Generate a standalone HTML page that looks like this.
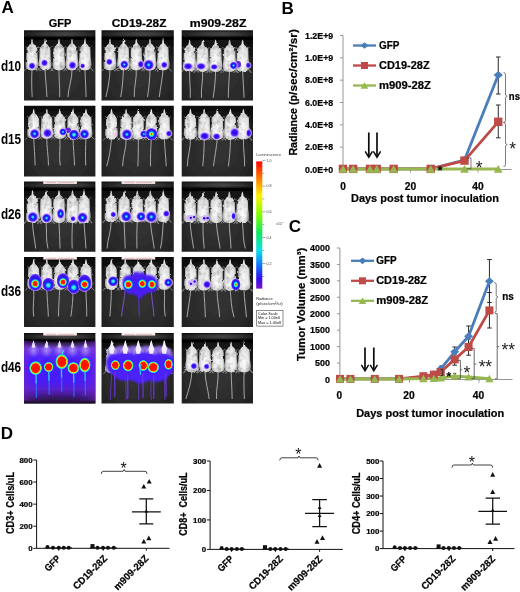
<!DOCTYPE html>
<html><head><meta charset="utf-8"><title>Figure</title>
<style>html,body{margin:0;padding:0;background:#fff;}body{width:520px;height:592px;overflow:hidden;font-family:"Liberation Sans", sans-serif;}svg{display:block;font-family:"Liberation Sans", sans-serif;}</style>
</head><body>
<svg width="520" height="592" viewBox="0 0 520 592">
<rect x="0" y="0" width="520" height="592" fill="#fff"/>
<defs><filter id="nop" x="0" y="0" width="520" height="592" filterUnits="userSpaceOnUse"><feOffset dx="0" dy="0"/></filter></defs>
<g filter="url(#nop)">
<text x="1.6" y="13.0" font-size="17.0" font-weight="bold" text-anchor="start" fill="#000">A</text>
<text x="281.5" y="13.5" font-size="17.0" font-weight="bold" text-anchor="start" fill="#000">B</text>
<text x="288.8" y="232.4" font-size="17.0" font-weight="bold" text-anchor="start" fill="#000">C</text>
<text x="0.7" y="438.6" font-size="17.0" font-weight="bold" text-anchor="start" fill="#000">D</text>
<text x="48.8" y="27.4" font-size="10.8" font-weight="bold" text-anchor="start" fill="#000" stroke="#000" stroke-width="0.22" textLength="22.6" lengthAdjust="spacingAndGlyphs">GFP</text>
<text x="111.8" y="27.4" font-size="10.8" font-weight="bold" text-anchor="start" fill="#000" stroke="#000" stroke-width="0.22" textLength="54.6" lengthAdjust="spacingAndGlyphs">CD19-28Z</text>
<text x="189.8" y="27.4" font-size="10.8" font-weight="bold" text-anchor="start" fill="#000" stroke="#000" stroke-width="0.22" textLength="56.6" lengthAdjust="spacingAndGlyphs">m909-28Z</text>
<text x="0.9" y="71.3" font-size="14.0" font-weight="bold" text-anchor="start" fill="#000" textLength="20.2" lengthAdjust="spacingAndGlyphs">d10</text>
<text x="0.9" y="144.1" font-size="14.0" font-weight="bold" text-anchor="start" fill="#000" textLength="20.2" lengthAdjust="spacingAndGlyphs">d15</text>
<text x="0.9" y="218.6" font-size="14.0" font-weight="bold" text-anchor="start" fill="#000" textLength="20.2" lengthAdjust="spacingAndGlyphs">d26</text>
<text x="0.9" y="296.1" font-size="14.0" font-weight="bold" text-anchor="start" fill="#000" textLength="20.2" lengthAdjust="spacingAndGlyphs">d36</text>
<text x="0.9" y="371.8" font-size="14.0" font-weight="bold" text-anchor="start" fill="#000" textLength="20.2" lengthAdjust="spacingAndGlyphs">d46</text>

<defs>
<filter id="soft" x="-5%" y="-5%" width="110%" height="110%"><feGaussianBlur stdDeviation="0.55"/></filter>
<filter id="fur" x="-5%" y="-5%" width="110%" height="110%">
 <feTurbulence type="fractalNoise" baseFrequency="0.2" numOctaves="2" seed="4" result="n"/>
 <feDisplacementMap in="SourceGraphic" in2="n" scale="2.4" xChannelSelector="R" yChannelSelector="G" result="d"/>
 <feColorMatrix in="n" type="matrix" values="0 0 0 0 0  0 0 0 0 0  0 0 0 0 0  0 0 1.3 0 -0.62" result="na"/>
 <feComposite in="na" in2="d" operator="in" result="shade"/>
 <feMerge><feMergeNode in="d"/><feMergeNode in="shade"/></feMerge>
</filter>
<filter id="cloudblur" x="-20%" y="-20%" width="140%" height="140%"><feGaussianBlur stdDeviation="1.1"/></filter>
<linearGradient id="fieldV" x1="0" x2="0" y1="0" y2="1">
 <stop offset="0" stop-color="#7a40d8" stop-opacity="0"/><stop offset="0.05" stop-color="#7a44dc" stop-opacity="0.35"/><stop offset="0.12" stop-color="#7c48ec" stop-opacity="0.95"/><stop offset="0.24" stop-color="#5426fa" stop-opacity="1"/><stop offset="0.38" stop-color="#451cfc" stop-opacity="1"/><stop offset="0.62" stop-color="#4a1cf4" stop-opacity="1"/><stop offset="0.73" stop-color="#5a20d0" stop-opacity="1"/><stop offset="0.81" stop-color="#4a1a9c" stop-opacity="0.95"/><stop offset="0.88" stop-color="#32145c" stop-opacity="0.92"/><stop offset="0.95" stop-color="#20102e" stop-opacity="0.9"/><stop offset="1" stop-color="#1a0e24" stop-opacity="0.9"/>
</linearGradient>
<linearGradient id="fieldH" x1="0" x2="1" y1="0" y2="0">
 <stop offset="0" stop-color="#7a22b8" stop-opacity="0.7"/><stop offset="0.1" stop-color="#7a26d0" stop-opacity="0.3"/><stop offset="0.3" stop-color="#4a20ff" stop-opacity="0"/><stop offset="0.7" stop-color="#4a20ff" stop-opacity="0"/><stop offset="0.9" stop-color="#7a26d0" stop-opacity="0.3"/><stop offset="1" stop-color="#7a22b8" stop-opacity="0.7"/>
</linearGradient>
<radialGradient id="PL"><stop offset="0" stop-color="#c0acf8" stop-opacity="0.7"/><stop offset="0.5" stop-color="#a488f4" stop-opacity="0.4"/><stop offset="1" stop-color="#8a60f0" stop-opacity="0"/></radialGradient>
<radialGradient id="GB"><stop offset="0" stop-color="#3a1cff" stop-opacity="0.95"/><stop offset="0.55" stop-color="#441eff" stop-opacity="0.7"/><stop offset="1" stop-color="#5a24f8" stop-opacity="0"/></radialGradient>
<radialGradient id="L4b"><stop offset="0" stop-color="#ff1400"/><stop offset="0.3" stop-color="#ff2000"/><stop offset="0.37" stop-color="#ffd000"/><stop offset="0.43" stop-color="#50ff60"/><stop offset="0.5" stop-color="#20d8ff"/><stop offset="0.62" stop-color="#1040ff"/><stop offset="0.8" stop-color="#3412ee"/><stop offset="1" stop-color="#4a1cf4" stop-opacity="0"/></radialGradient>
<filter id="soft2" x="-20%" y="-20%" width="140%" height="140%"><feGaussianBlur stdDeviation="0.35"/></filter>
<filter id="glowblur" x="-20%" y="-20%" width="140%" height="140%"><feGaussianBlur stdDeviation="2.2"/></filter>
<radialGradient id="bgG" cx="50%" cy="62%" r="75%">
 <stop offset="0" stop-color="#343434"/><stop offset="0.55" stop-color="#292929"/><stop offset="1" stop-color="#131313"/>
</radialGradient>
<linearGradient id="bandH" x1="0" x2="1" y1="0" y2="0">
 <stop offset="0" stop-color="#1e1e1e"/><stop offset="0.3" stop-color="#404040"/><stop offset="0.58" stop-color="#505050"/><stop offset="0.82" stop-color="#3a3a3a"/><stop offset="1" stop-color="#1c1c1c"/>
</linearGradient>
<linearGradient id="topdark" x1="0" x2="0" y1="0" y2="1">
 <stop offset="0" stop-color="#000" stop-opacity="0.5"/><stop offset="0.5" stop-color="#000" stop-opacity="0.35"/><stop offset="1" stop-color="#000" stop-opacity="0"/>
</linearGradient>
<linearGradient id="bandV" x1="0" x2="0" y1="0" y2="1">
 <stop offset="0" stop-color="#000" stop-opacity="0.8"/><stop offset="0.18" stop-color="#000" stop-opacity="0.25"/><stop offset="0.4" stop-color="#000" stop-opacity="0.12"/><stop offset="0.58" stop-color="#000" stop-opacity="0.4"/><stop offset="0.68" stop-color="#000" stop-opacity="0.96"/><stop offset="0.95" stop-color="#000" stop-opacity="0.92"/><stop offset="1" stop-color="#000" stop-opacity="0.5"/>
</linearGradient>
<linearGradient id="bodyV" x1="0" x2="0" y1="0" y2="1">
 <stop offset="0" stop-color="#dedede"/><stop offset="0.25" stop-color="#e6e6e6"/><stop offset="0.5" stop-color="#f8f8f8"/><stop offset="0.78" stop-color="#ffffff"/><stop offset="1" stop-color="#dedede"/>
</linearGradient>
<linearGradient id="bodyH" x1="0" x2="1" y1="0" y2="0">
 <stop offset="0" stop-color="#000" stop-opacity="0.34"/><stop offset="0.2" stop-color="#000" stop-opacity="0.06"/><stop offset="0.5" stop-color="#fff" stop-opacity="0.12"/><stop offset="0.8" stop-color="#000" stop-opacity="0.06"/><stop offset="1" stop-color="#000" stop-opacity="0.34"/>
</linearGradient>
<path id="mbody" d="M0,0 C0.5,0.7 0.8,2 0.95,4 C1.05,4.8 1.3,5.3 1.9,5.7 C2.8,6.2 3.2,6.8 3.4,7.5 C3.7,8.4 4.7,8.6 5.1,9.6 C5.6,11 5.4,14 5.5,18 C5.6,21 6.3,23.4 6.3,27 C6.2,30.4 4.2,32.2 1.5,32.5 L-1.5,32.5 C-4.2,32.2 -6.2,30.4 -6.3,27 C-6.3,23.4 -5.6,21 -5.5,18 C-5.4,14 -5.6,11 -5.1,9.6 C-4.7,8.6 -3.7,8.4 -3.4,7.5 C-3.2,6.8 -2.8,6.2 -1.9,5.7 C-1.3,5.3 -1.05,4.8 -0.95,4 C-0.8,2 -0.5,0.7 0,0 Z"/>
<g id="mouse">
 <path d="M-4.8,29.2 L-8.4,33.4 M4.8,29.2 L8.4,33.4" stroke="#8e8e8e" stroke-width="1" fill="none"/>
 <path d="M-4.4,9.8 L-6.6,8 M4.4,9.8 L6.6,8" stroke="#777" stroke-width="0.8" fill="none"/>
 <use href="#mbody" fill="url(#bodyV)"/>
 <use href="#mbody" fill="url(#bodyH)"/>
</g>
<radialGradient id="L1"><stop offset="0" stop-color="#2410d8"/><stop offset="0.36" stop-color="#3412f0"/><stop offset="0.54" stop-color="#6a34ff"/><stop offset="0.68" stop-color="#b494ff" stop-opacity="0.9"/><stop offset="0.84" stop-color="#dccfff" stop-opacity="0.55"/><stop offset="1" stop-color="#efe6ff" stop-opacity="0"/></radialGradient>
<radialGradient id="L2"><stop offset="0" stop-color="#86f0ff"/><stop offset="0.1" stop-color="#40d0ff"/><stop offset="0.2" stop-color="#1c8cff"/><stop offset="0.31" stop-color="#1030f8"/><stop offset="0.5" stop-color="#2a10e4"/><stop offset="0.64" stop-color="#6a34ff"/><stop offset="0.76" stop-color="#b898ff" stop-opacity="0.9"/><stop offset="0.88" stop-color="#dccfff" stop-opacity="0.5"/><stop offset="1" stop-color="#efe6ff" stop-opacity="0"/></radialGradient>
<radialGradient id="L3"><stop offset="0" stop-color="#58ff86"/><stop offset="0.16" stop-color="#30f0d0"/><stop offset="0.3" stop-color="#20a8ff"/><stop offset="0.44" stop-color="#1030f8"/><stop offset="0.62" stop-color="#2a10e4"/><stop offset="0.8" stop-color="#6a34ff"/><stop offset="0.92" stop-color="#c09cff" stop-opacity="0.8"/><stop offset="1" stop-color="#ecdcff" stop-opacity="0"/></radialGradient>
<radialGradient id="L4"><stop offset="0" stop-color="#ff1400"/><stop offset="0.34" stop-color="#ff2000"/><stop offset="0.41" stop-color="#ffd000"/><stop offset="0.47" stop-color="#50ff60"/><stop offset="0.54" stop-color="#20d8ff"/><stop offset="0.64" stop-color="#1040ff"/><stop offset="0.8" stop-color="#2c10e4"/><stop offset="0.9" stop-color="#6a34ff"/><stop offset="0.97" stop-color="#b48cff" stop-opacity="0.8"/><stop offset="1" stop-color="#e0d0ff" stop-opacity="0"/></radialGradient>
<radialGradient id="L4s"><stop offset="0" stop-color="#ff2800"/><stop offset="0.1" stop-color="#ff4000"/><stop offset="0.17" stop-color="#e8e000"/><stop offset="0.24" stop-color="#50ff70"/><stop offset="0.34" stop-color="#20d8ff"/><stop offset="0.48" stop-color="#1040ff"/><stop offset="0.68" stop-color="#2c10e4"/><stop offset="0.84" stop-color="#6a34ff"/><stop offset="0.94" stop-color="#b48cff" stop-opacity="0.8"/><stop offset="1" stop-color="#e0d0ff" stop-opacity="0"/></radialGradient>
<radialGradient id="L4i"><stop offset="0" stop-color="#ff1400"/><stop offset="0.4" stop-color="#ff2000"/><stop offset="0.5" stop-color="#ffd000"/><stop offset="0.58" stop-color="#50ff60"/><stop offset="0.68" stop-color="#20d8ff"/><stop offset="0.84" stop-color="#1040ff"/><stop offset="1" stop-color="#2c10e4" stop-opacity="0"/></radialGradient>
<radialGradient id="L3i"><stop offset="0" stop-color="#58ff86"/><stop offset="0.25" stop-color="#30f0d0"/><stop offset="0.48" stop-color="#20a8ff"/><stop offset="0.75" stop-color="#1030f8"/><stop offset="1" stop-color="#2c10e4" stop-opacity="0"/></radialGradient>
<radialGradient id="LB"><stop offset="0" stop-color="#2c10e4"/><stop offset="0.7" stop-color="#3814ec"/><stop offset="0.86" stop-color="#6a34ff"/><stop offset="0.95" stop-color="#b48cff" stop-opacity="0.8"/><stop offset="1" stop-color="#e0d0ff" stop-opacity="0"/></radialGradient>
<radialGradient id="L5"><stop offset="0" stop-color="#ff1000"/><stop offset="0.6" stop-color="#ff1400"/><stop offset="0.7" stop-color="#ffd800"/><stop offset="0.78" stop-color="#50ff70"/><stop offset="0.87" stop-color="#28d0ff"/><stop offset="1" stop-color="#2060ff" stop-opacity="0"/></radialGradient>
<radialGradient id="GV"><stop offset="0" stop-color="#3c1cff" stop-opacity="1"/><stop offset="0.45" stop-color="#4a1cff" stop-opacity="0.95"/><stop offset="0.75" stop-color="#7426e8" stop-opacity="0.7"/><stop offset="1" stop-color="#7a28c8" stop-opacity="0"/></radialGradient>
<linearGradient id="cbar" x1="0" x2="0" y1="0" y2="1">
 <stop offset="0" stop-color="#ff0000"/><stop offset="0.12" stop-color="#ff7000"/><stop offset="0.27" stop-color="#fff000"/><stop offset="0.42" stop-color="#80ff00"/><stop offset="0.56" stop-color="#10e860"/><stop offset="0.7" stop-color="#10e0e8"/><stop offset="0.82" stop-color="#1070ff"/><stop offset="0.92" stop-color="#3010f0"/><stop offset="1" stop-color="#7a10d0"/>
</linearGradient>
</defs>

<g transform="translate(24.0,30.3)">
<clipPath id="cp00"><rect x="0.0" y="0.0" width="71.4" height="70.1"/></clipPath>
<g clip-path="url(#cp00)">
<g filter="url(#soft)">
<rect x="-3" y="-3" width="77.2" height="76.8" fill="url(#bgG)"/>
<rect x="-3" y="0.0" width="77.2" height="10.2" fill="url(#bandH)"/>
<rect x="-3" y="0.0" width="77.2" height="10.2" fill="url(#bandV)"/>
<rect x="-3" y="9.5" width="77.2" height="26" fill="url(#topdark)"/>
<path d="M8,38.734 C7.55,48.734 7.62,56.734 8.18,66.73400000000001" stroke="#bdbdbd" stroke-width="0.85" fill="none"/>
<path d="M21,38.734 C21.50,48.734 22.45,56.734 22.94,66.73400000000001" stroke="#bdbdbd" stroke-width="0.85" fill="none"/>
<path d="M35,38.734 C34.75,48.734 36.07,56.734 35.68,66.73400000000001" stroke="#bdbdbd" stroke-width="0.85" fill="none"/>
<path d="M48,38.734 C48.40,48.734 44.40,56.734 43.96,66.73400000000001" stroke="#bdbdbd" stroke-width="0.85" fill="none"/>
<path d="M61,38.734 C61.25,48.734 61.88,56.734 62.06,66.73400000000001" stroke="#bdbdbd" stroke-width="0.85" fill="none"/>
<g filter="url(#fur)">
<use href="#mouse" transform="translate(8,8.5) scale(1.0,0.97)"/>
<use href="#mouse" transform="translate(21,8.5) scale(1.0,0.97)"/>
<use href="#mouse" transform="translate(35,8.5) scale(1.0,0.97)"/>
<use href="#mouse" transform="translate(48,8.5) scale(1.0,0.97)"/>
<use href="#mouse" transform="translate(61,8.5) scale(1.0,0.97)"/>
</g>
</g>
<g filter="url(#soft2)">
<ellipse cx="8" cy="35.6" rx="4.42" ry="4.42" fill="url(#L1)"/>
<ellipse cx="20.5" cy="32.6" rx="4.42" ry="4.42" fill="url(#L1)"/>
<ellipse cx="48.5" cy="35" rx="4.94" ry="4.94" fill="url(#L1)"/>
<ellipse cx="58.6" cy="35.6" rx="3.12" ry="3.12" fill="url(#L1)"/>
</g>
</g>
</g>
<g transform="translate(102.3,30.3)">
<clipPath id="cp01"><rect x="-0.8" y="0.0" width="72.3" height="70.1"/></clipPath>
<g clip-path="url(#cp01)">
<g filter="url(#soft)">
<rect x="-3" y="-3" width="77.2" height="76.8" fill="url(#bgG)"/>
<rect x="-3" y="0.0" width="77.2" height="10.2" fill="url(#bandH)"/>
<rect x="-3" y="0.0" width="77.2" height="10.2" fill="url(#bandV)"/>
<rect x="-3" y="9.5" width="77.2" height="26" fill="url(#topdark)"/>
<path d="M7.7,38.734 C7.60,48.734 5.85,56.734 3.64,66.73400000000001" stroke="#bdbdbd" stroke-width="0.85" fill="none"/>
<path d="M21.2,38.734 C20.60,48.734 20.35,56.734 18.38,66.73400000000001" stroke="#bdbdbd" stroke-width="0.85" fill="none"/>
<path d="M34,38.734 C34.60,48.734 31.50,56.734 31.96,66.73400000000001" stroke="#bdbdbd" stroke-width="0.85" fill="none"/>
<path d="M47.7,38.734 C47.60,48.734 46.65,56.734 45.26,66.73400000000001" stroke="#bdbdbd" stroke-width="0.85" fill="none"/>
<path d="M60.8,38.734 C59.95,48.734 58.22,56.734 56.98,66.73400000000001" stroke="#bdbdbd" stroke-width="0.85" fill="none"/>
<g filter="url(#fur)">
<use href="#mouse" transform="translate(7.7,8.5) scale(1.0,0.97)"/>
<use href="#mouse" transform="translate(21.2,8.5) scale(1.0,0.97)"/>
<use href="#mouse" transform="translate(34,8.5) scale(1.0,0.97)"/>
<use href="#mouse" transform="translate(47.7,8.5) scale(1.0,0.97)"/>
<use href="#mouse" transform="translate(60.8,8.5) scale(1.0,0.97)"/>
</g>
</g>
<g filter="url(#soft2)">
<ellipse cx="7" cy="31.6" rx="4.16" ry="4.16" fill="url(#L1)"/>
<ellipse cx="22" cy="34.2" rx="4.91" ry="4.91" fill="url(#L2)"/>
<ellipse cx="38.5" cy="34" rx="3.90" ry="4.68" fill="url(#L1)"/>
<ellipse cx="46.4" cy="34.6" rx="6.32" ry="6.32" fill="url(#L2)"/>
<ellipse cx="62" cy="34.6" rx="4.16" ry="4.16" fill="url(#L1)"/>
</g>
</g>
</g>
<g transform="translate(181.6,30.3)">
<clipPath id="cp02"><rect x="0.1" y="0.0" width="71.3" height="70.1"/></clipPath>
<g clip-path="url(#cp02)">
<g filter="url(#soft)">
<rect x="-3" y="-3" width="77.2" height="76.8" fill="url(#bgG)"/>
<rect x="-3" y="0.0" width="77.2" height="10.2" fill="url(#bandH)"/>
<rect x="-3" y="0.0" width="77.2" height="10.2" fill="url(#bandV)"/>
<rect x="-3" y="9.5" width="77.2" height="26" fill="url(#topdark)"/>
<path d="M8,40.239000000000004 C7.75,50.239000000000004 9.08,58.239000000000004 8.68,67.5" stroke="#bdbdbd" stroke-width="0.85" fill="none"/>
<path d="M21,40.239000000000004 C21.70,50.239000000000004 19.05,58.239000000000004 19.96,67.5" stroke="#bdbdbd" stroke-width="0.85" fill="none"/>
<path d="M34,40.239000000000004 C33.90,50.239000000000004 32.95,58.239000000000004 31.56,67.5" stroke="#bdbdbd" stroke-width="0.85" fill="none"/>
<path d="M48,40.239000000000004 C47.40,50.239000000000004 46.80,58.239000000000004 46.68,67.5" stroke="#bdbdbd" stroke-width="0.85" fill="none"/>
<path d="M61,40.239000000000004 C61.45,50.239000000000004 62.17,58.239000000000004 62.44,67.5" stroke="#bdbdbd" stroke-width="0.85" fill="none"/>
<g filter="url(#fur)">
<use href="#mouse" transform="translate(8,9.2) scale(1.06,0.995)"/>
<use href="#mouse" transform="translate(21,9.2) scale(1.06,0.995)"/>
<use href="#mouse" transform="translate(34,9.2) scale(1.06,0.995)"/>
<use href="#mouse" transform="translate(48,9.2) scale(1.06,0.995)"/>
<use href="#mouse" transform="translate(61,9.2) scale(1.06,0.995)"/>
</g>
</g>
<g filter="url(#soft2)">
<ellipse cx="6.5" cy="36" rx="5.98" ry="4.42" fill="url(#L1)"/>
<ellipse cx="19.5" cy="36" rx="5.98" ry="4.42" fill="url(#L1)"/>
<ellipse cx="32.6" cy="36.6" rx="4.68" ry="3.64" fill="url(#L1)"/>
<ellipse cx="56.6" cy="34" rx="2.8" ry="3.2" fill="#5c1ae0" opacity="0.95"/>
<ellipse cx="52" cy="35.2" rx="4.68" ry="4.68" fill="url(#L2)"/>
<ellipse cx="66.8" cy="35" rx="3.38" ry="3.90" fill="url(#L1)"/>
</g>
</g>
</g>
<g transform="translate(24.0,106.1)">
<clipPath id="cp10"><rect x="0.0" y="-0.3" width="71.4" height="70.7"/></clipPath>
<g clip-path="url(#cp10)">
<g filter="url(#soft)">
<rect x="-3" y="-3" width="77.2" height="76.8" fill="url(#bgG)"/>
<rect x="-3" y="-3" width="77.2" height="8" fill="#0d0d0d" opacity="0.5"/>
<rect x="-3" y="0" width="77.2" height="26" fill="url(#topdark)"/>
<path d="M9.7,31.385000000000005 C10.15,41.385000000000005 10.88,49.385000000000005 11.14,59.385000000000005" stroke="#bdbdbd" stroke-width="0.85" fill="none"/>
<path d="M22.8,31.385000000000005 C22.65,41.385000000000005 24.43,49.385000000000005 24.48,59.385000000000005" stroke="#bdbdbd" stroke-width="0.85" fill="none"/>
<path d="M35.8,31.385000000000005 C36.65,41.385000000000005 34.67,49.385000000000005 36.26,59.385000000000005" stroke="#bdbdbd" stroke-width="0.85" fill="none"/>
<path d="M49,31.385000000000005 C49.30,41.385000000000005 50.15,49.385000000000005 50.56,59.385000000000005" stroke="#bdbdbd" stroke-width="0.85" fill="none"/>
<path d="M62,31.385000000000005 C61.50,41.385000000000005 61.35,49.385000000000005 61.68,59.385000000000005" stroke="#bdbdbd" stroke-width="0.85" fill="none"/>
<g filter="url(#fur)">
<use href="#mouse" transform="translate(9.7,2.6) scale(1.0,0.925)"/>
<use href="#mouse" transform="translate(22.8,2.6) scale(1.0,0.925)"/>
<use href="#mouse" transform="translate(35.8,2.6) scale(1.0,0.925)"/>
<use href="#mouse" transform="translate(49,2.6) scale(1.0,0.925)"/>
<use href="#mouse" transform="translate(62,2.6) scale(1.0,0.925)"/>
</g>
</g>
<g filter="url(#soft2)">
<ellipse cx="10.6" cy="27.7" rx="5.85" ry="5.85" fill="url(#L2)"/>
<ellipse cx="23.5" cy="27" rx="5.72" ry="5.72" fill="url(#L1)"/>
<ellipse cx="44" cy="24.2" rx="3" ry="2.6" fill="#5c1ae0" opacity="0.95"/>
<ellipse cx="39" cy="25.8" rx="4.45" ry="4.45" fill="url(#L2)"/>
<ellipse cx="50" cy="28.6" rx="5.40" ry="5.40" fill="url(#L3)"/>
<ellipse cx="60.5" cy="28" rx="5.85" ry="5.85" fill="url(#L2)"/>
</g>
</g>
</g>
<g transform="translate(102.3,106.1)">
<clipPath id="cp11"><rect x="-0.8" y="-0.3" width="72.3" height="70.7"/></clipPath>
<g clip-path="url(#cp11)">
<g filter="url(#soft)">
<rect x="-3" y="-3" width="77.2" height="76.8" fill="url(#bgG)"/>
<rect x="-3" y="-3" width="77.2" height="8" fill="#0d0d0d" opacity="0.5"/>
<rect x="-3" y="0" width="77.2" height="26" fill="url(#topdark)"/>
<path d="M9.2,32.19 C8.40,42.19 7.25,50.19 4.38,60.19" stroke="#bdbdbd" stroke-width="0.85" fill="none"/>
<path d="M23.8,32.19 C24.25,42.19 20.48,50.19 20.26,60.19" stroke="#bdbdbd" stroke-width="0.85" fill="none"/>
<path d="M36,32.19 C36.10,42.19 36.05,50.19 35.56,60.19" stroke="#bdbdbd" stroke-width="0.85" fill="none"/>
<path d="M49,32.19 C48.45,42.19 48.07,50.19 48.18,60.19" stroke="#bdbdbd" stroke-width="0.85" fill="none"/>
<path d="M62,32.19 C62.50,42.19 63.45,50.19 63.94,60.19" stroke="#bdbdbd" stroke-width="0.85" fill="none"/>
<g filter="url(#fur)">
<use href="#mouse" transform="translate(9.2,2.6) scale(1.0,0.95)"/>
<use href="#mouse" transform="translate(23.8,2.6) scale(1.0,0.95)"/>
<use href="#mouse" transform="translate(36,2.6) scale(1.0,0.95)"/>
<use href="#mouse" transform="translate(49,2.6) scale(1.0,0.95)"/>
<use href="#mouse" transform="translate(62,2.6) scale(1.0,0.95)"/>
</g>
</g>
<g filter="url(#soft2)">
<ellipse cx="12.5" cy="28.5" rx="2.2" ry="2.2" fill="#f0c8e8" opacity="0.8"/>
<ellipse cx="24.6" cy="28.3" rx="6.32" ry="6.32" fill="url(#L2)"/>
<ellipse cx="41.5" cy="28" rx="4.45" ry="4.45" fill="url(#L2)"/>
<ellipse cx="49.2" cy="28" rx="6.40" ry="6.40" fill="url(#L4s)"/>
<ellipse cx="66.6" cy="27.5" rx="3.90" ry="3.90" fill="url(#L1)"/>
</g>
</g>
</g>
<g transform="translate(181.6,106.1)">
<clipPath id="cp12"><rect x="0.1" y="-0.3" width="71.3" height="70.7"/></clipPath>
<g clip-path="url(#cp12)">
<g filter="url(#soft)">
<rect x="-3" y="-3" width="77.2" height="76.8" fill="url(#bgG)"/>
<rect x="-3" y="-3" width="77.2" height="8" fill="#0d0d0d" opacity="0.5"/>
<rect x="-3" y="0" width="77.2" height="26" fill="url(#topdark)"/>
<path d="M8.8,32.19 C9.30,42.19 5.75,50.19 5.76,60.19" stroke="#bdbdbd" stroke-width="0.85" fill="none"/>
<path d="M22.6,32.19 C22.60,42.19 22.10,50.19 21.16,60.19" stroke="#bdbdbd" stroke-width="0.85" fill="none"/>
<path d="M35.7,32.19 C34.85,42.19 33.12,50.19 31.88,60.19" stroke="#bdbdbd" stroke-width="0.85" fill="none"/>
<path d="M48.8,32.19 C48.90,42.19 48.05,50.19 46.74,60.19" stroke="#bdbdbd" stroke-width="0.85" fill="none"/>
<path d="M61.8,32.19 C61.60,42.19 63.15,50.19 62.98,60.19" stroke="#bdbdbd" stroke-width="0.85" fill="none"/>
<g filter="url(#fur)">
<use href="#mouse" transform="translate(8.8,2.6) scale(1.04,0.95)"/>
<use href="#mouse" transform="translate(22.6,2.6) scale(1.04,0.95)"/>
<use href="#mouse" transform="translate(35.7,2.6) scale(1.04,0.95)"/>
<use href="#mouse" transform="translate(48.8,2.6) scale(1.04,0.95)"/>
<use href="#mouse" transform="translate(61.8,2.6) scale(1.04,0.95)"/>
</g>
</g>
<g filter="url(#soft2)">
<ellipse cx="23" cy="30" rx="6.24" ry="4.94" fill="url(#L1)"/>
<ellipse cx="35" cy="30.4" rx="4.94" ry="4.16" fill="url(#L1)"/>
<ellipse cx="53" cy="26.6" rx="5.98" ry="5.98" fill="url(#L1)"/>
<ellipse cx="67.2" cy="27" rx="3.38" ry="5.20" fill="url(#L1)"/>
</g>
</g>
</g>
<g transform="translate(24.0,181.1)">
<clipPath id="cp20"><rect x="0.0" y="0.4" width="71.4" height="70.2"/></clipPath>
<g clip-path="url(#cp20)">
<g filter="url(#soft)">
<rect x="-3" y="-3" width="77.2" height="76.8" fill="url(#bgG)"/>
<rect x="-3" y="0.4" width="77.2" height="9.799999999999999" fill="url(#bandH)"/>
<rect x="-3" y="0.4" width="77.2" height="9.799999999999999" fill="url(#bandV)"/>
<rect x="-3" y="9.5" width="77.2" height="26" fill="url(#topdark)"/>
<path d="M8.5,40.483000000000004 C8.50,50.483000000000004 10.95,58.483000000000004 11.68,67.5" stroke="#bdbdbd" stroke-width="0.85" fill="none"/>
<path d="M22,40.483000000000004 C23.00,50.483000000000004 21.70,58.483000000000004 23.96,67.5" stroke="#bdbdbd" stroke-width="0.85" fill="none"/>
<path d="M35,40.483000000000004 C35.25,50.483000000000004 35.88,58.483000000000004 36.06,67.5" stroke="#bdbdbd" stroke-width="0.85" fill="none"/>
<path d="M48.5,40.483000000000004 C48.00,50.483000000000004 47.85,58.483000000000004 48.18,67.5" stroke="#bdbdbd" stroke-width="0.85" fill="none"/>
<path d="M60,40.483000000000004 C60.50,50.483000000000004 61.45,58.483000000000004 61.94,67.5" stroke="#bdbdbd" stroke-width="0.85" fill="none"/>
<g filter="url(#fur)">
<use href="#mouse" transform="translate(8.5,8.8) scale(1.04,1.015)"/>
<use href="#mouse" transform="translate(22,8.8) scale(1.04,1.015)"/>
<use href="#mouse" transform="translate(35,8.8) scale(1.04,1.015)"/>
<use href="#mouse" transform="translate(48.5,8.8) scale(1.04,1.015)"/>
<use href="#mouse" transform="translate(60,8.8) scale(1.04,1.015)"/>
</g>
</g>
<g filter="url(#soft2)">
<ellipse cx="8.8" cy="36" rx="6.32" ry="6.32" fill="url(#L2)"/>
<ellipse cx="22.6" cy="37" rx="5.62" ry="5.62" fill="url(#L2)"/>
<ellipse cx="36.6" cy="32.6" rx="4.45" ry="6.32" fill="url(#L2)"/>
<ellipse cx="49" cy="37.6" rx="3.38" ry="3.38" fill="url(#L1)"/>
<ellipse cx="58.5" cy="36.5" rx="6.32" ry="6.32" fill="url(#L2)"/>
</g>
</g>
<rect x="19.3" y="0.20" width="33.6" height="2.6" fill="#f8efef"/>
<rect x="22" y="1.20" width="10" height="0.7" fill="#e8a0a0"/><rect x="34" y="1.20" width="16" height="0.7" fill="#e8a0a0"/>
</g>
<g transform="translate(102.3,181.1)">
<clipPath id="cp21"><rect x="-0.8" y="0.4" width="72.3" height="70.2"/></clipPath>
<g clip-path="url(#cp21)">
<g filter="url(#soft)">
<rect x="-3" y="-3" width="77.2" height="76.8" fill="url(#bgG)"/>
<rect x="-3" y="0.4" width="77.2" height="9.799999999999999" fill="url(#bandH)"/>
<rect x="-3" y="0.4" width="77.2" height="9.799999999999999" fill="url(#bandV)"/>
<rect x="-3" y="9.5" width="77.2" height="26" fill="url(#topdark)"/>
<path d="M8.8,39.734 C9.20,49.734 5.20,57.734 4.76,67.5" stroke="#bdbdbd" stroke-width="0.85" fill="none"/>
<path d="M21.8,39.734 C22.05,49.734 22.68,57.734 22.86,67.5" stroke="#bdbdbd" stroke-width="0.85" fill="none"/>
<path d="M35,39.734 C34.50,49.734 34.35,57.734 34.68,67.5" stroke="#bdbdbd" stroke-width="0.85" fill="none"/>
<path d="M48,39.734 C48.70,49.734 50.55,57.734 51.94,67.5" stroke="#bdbdbd" stroke-width="0.85" fill="none"/>
<path d="M61,39.734 C60.40,49.734 60.15,57.734 58.18,67.5" stroke="#bdbdbd" stroke-width="0.85" fill="none"/>
<g filter="url(#fur)">
<use href="#mouse" transform="translate(8.8,9.5) scale(1.02,0.97)"/>
<use href="#mouse" transform="translate(21.8,9.5) scale(1.02,0.97)"/>
<use href="#mouse" transform="translate(35,9.5) scale(1.02,0.97)"/>
<use href="#mouse" transform="translate(48,9.5) scale(1.02,0.97)"/>
<use href="#mouse" transform="translate(61,9.5) scale(1.02,0.97)"/>
</g>
</g>
<g filter="url(#soft2)">
<ellipse cx="11" cy="33.4" rx="3.64" ry="3.64" fill="url(#L1)"/>
<ellipse cx="24" cy="35.4" rx="6.32" ry="6.32" fill="url(#L2)"/>
<ellipse cx="38.8" cy="35.4" rx="5.62" ry="5.62" fill="url(#L2)"/>
<ellipse cx="49" cy="35.8" rx="6.79" ry="6.79" fill="url(#L2)"/>
<ellipse cx="64" cy="32.6" rx="4.16" ry="4.16" fill="url(#L1)"/>
</g>
</g>
<rect x="19.3" y="0.20" width="33.6" height="2.6" fill="#f8efef"/>
<rect x="22" y="1.20" width="10" height="0.7" fill="#e8a0a0"/><rect x="34" y="1.20" width="16" height="0.7" fill="#e8a0a0"/>
</g>
<g transform="translate(181.6,181.1)">
<clipPath id="cp22"><rect x="0.1" y="0.4" width="71.3" height="70.2"/></clipPath>
<g clip-path="url(#cp22)">
<g filter="url(#soft)">
<rect x="-3" y="-3" width="77.2" height="76.8" fill="url(#bgG)"/>
<rect x="-3" y="0.4" width="77.2" height="9.799999999999999" fill="url(#bandH)"/>
<rect x="-3" y="0.4" width="77.2" height="9.799999999999999" fill="url(#bandV)"/>
<rect x="-3" y="9.5" width="77.2" height="26" fill="url(#topdark)"/>
<path d="M8.5,40.534000000000006 C9.00,50.534000000000006 10.75,58.534000000000006 12.06,67.5" stroke="#bdbdbd" stroke-width="0.85" fill="none"/>
<path d="M21.5,40.534000000000006 C21.15,50.534000000000006 21.68,58.534000000000006 22.68,67.5" stroke="#bdbdbd" stroke-width="0.85" fill="none"/>
<path d="M34.6,40.534000000000006 C35.30,50.534000000000006 37.15,58.534000000000006 38.54,67.5" stroke="#bdbdbd" stroke-width="0.85" fill="none"/>
<path d="M47.7,40.534000000000006 C47.55,50.534000000000006 49.33,58.534000000000006 49.38,67.5" stroke="#bdbdbd" stroke-width="0.85" fill="none"/>
<path d="M60.8,40.534000000000006 C61.90,50.534000000000006 61.05,58.534000000000006 63.76,67.5" stroke="#bdbdbd" stroke-width="0.85" fill="none"/>
<g filter="url(#fur)">
<use href="#mouse" transform="translate(8.5,10.3) scale(1.04,0.97)"/>
<use href="#mouse" transform="translate(21.5,10.3) scale(1.04,0.97)"/>
<use href="#mouse" transform="translate(34.6,10.3) scale(1.04,0.97)"/>
<use href="#mouse" transform="translate(47.7,10.3) scale(1.04,0.97)"/>
<use href="#mouse" transform="translate(60.8,10.3) scale(1.04,0.97)"/>
</g>
</g>
<g filter="url(#soft2)">
<ellipse cx="8.5" cy="36.6" rx="4" ry="3" fill="#c8a8ff" opacity="0.75"/>
<ellipse cx="9.2" cy="36.6" rx="2.08" ry="1.82" fill="url(#L1)"/>
<ellipse cx="12.6" cy="36" rx="1.95" ry="1.95" fill="url(#L1)"/>
<ellipse cx="24" cy="37" rx="4" ry="3" fill="#c8a8ff" opacity="0.75"/>
<ellipse cx="22.6" cy="37.2" rx="2.21" ry="2.08" fill="url(#L1)"/>
<ellipse cx="26" cy="37" rx="2.08" ry="2.08" fill="url(#L1)"/>
<ellipse cx="52" cy="35" rx="2.86" ry="4.68" fill="url(#L1)"/>
</g>
</g>
</g>
<g transform="translate(24.0,256.7)">
<clipPath id="cp30"><rect x="0.0" y="0.4" width="71.4" height="69.8"/></clipPath>
<g clip-path="url(#cp30)">
<g filter="url(#soft)">
<rect x="-3" y="-3" width="77.2" height="76.8" fill="url(#bgG)"/>
<rect x="-3" y="-3" width="77.2" height="8" fill="#0d0d0d" opacity="0.5"/>
<rect x="-3" y="0" width="77.2" height="26" fill="url(#topdark)"/>
<path d="M9.7,31.729 C10.50,41.729 8.30,49.729 9.66,59.729" stroke="#bdbdbd" stroke-width="0.85" fill="none"/>
<path d="M22.8,31.729 C23.10,41.729 23.95,49.729 24.36,59.729" stroke="#bdbdbd" stroke-width="0.85" fill="none"/>
<path d="M35.8,31.729 C35.20,41.729 34.60,49.729 34.48,59.729" stroke="#bdbdbd" stroke-width="0.85" fill="none"/>
<path d="M49,31.729 C49.10,41.729 48.25,49.729 46.94,59.729" stroke="#bdbdbd" stroke-width="0.85" fill="none"/>
<path d="M62,31.729 C61.75,41.729 63.07,49.729 62.68,59.729" stroke="#bdbdbd" stroke-width="0.85" fill="none"/>
<g filter="url(#fur)">
<use href="#mouse" transform="translate(9.7,2.3) scale(1.0,0.945)"/>
<use href="#mouse" transform="translate(22.8,2.3) scale(1.0,0.945)"/>
<use href="#mouse" transform="translate(35.8,2.3) scale(1.0,0.945)"/>
<use href="#mouse" transform="translate(49,2.3) scale(1.0,0.945)"/>
<use href="#mouse" transform="translate(62,2.3) scale(1.0,0.945)"/>
</g>
</g>
<g filter="url(#soft2)">
<ellipse cx="11.2" cy="25.7" rx="7.2" ry="9.12" fill="url(#LB)"/><ellipse cx="11.2" cy="27" rx="5.328" ry="5.6160000000000005" fill="url(#L4i)"/>
<ellipse cx="24.3" cy="27.8" rx="6.2" ry="7.068" fill="url(#LB)"/><ellipse cx="24.3" cy="28.6" rx="4.0920000000000005" ry="4.0920000000000005" fill="url(#L3i)"/>
<ellipse cx="39" cy="24.099999999999998" rx="6.6" ry="8.16" fill="url(#LB)"/><ellipse cx="39" cy="25.4" rx="4.8839999999999995" ry="5.148" fill="url(#L4i)"/>
<ellipse cx="49.7" cy="30.0" rx="6.6" ry="7.523999999999999" fill="url(#LB)"/><ellipse cx="49.7" cy="30.8" rx="4.356" ry="4.356" fill="url(#L3i)"/>
<ellipse cx="60.6" cy="26.4" rx="7.2" ry="9.12" fill="url(#LB)"/><ellipse cx="60.6" cy="27.7" rx="5.328" ry="5.6160000000000005" fill="url(#L4i)"/>
</g>
</g>
<rect x="19.3" y="0.20" width="33.6" height="2.6" fill="#f8efef"/>
<rect x="22" y="1.20" width="10" height="0.7" fill="#e8a0a0"/><rect x="34" y="1.20" width="16" height="0.7" fill="#e8a0a0"/>
</g>
<g transform="translate(102.3,256.7)">
<clipPath id="cp31"><rect x="-0.8" y="0.4" width="72.3" height="69.8"/></clipPath>
<g clip-path="url(#cp31)">
<g filter="url(#soft)">
<rect x="-3" y="-3" width="77.2" height="76.8" fill="url(#bgG)"/>
<rect x="-3" y="-3" width="77.2" height="8" fill="#0d0d0d" opacity="0.5"/>
<rect x="-3" y="0" width="77.2" height="26" fill="url(#topdark)"/>
<path d="M9,31.729 C9.00,41.729 8.50,49.729 7.56,59.729" stroke="#bdbdbd" stroke-width="0.85" fill="none"/>
<path d="M23,31.729 C22.15,41.729 20.43,49.729 19.18,59.729" stroke="#8a5ce0" stroke-width="0.85" fill="none"/>
<path d="M36,31.729 C36.40,41.729 36.90,49.729 36.94,59.729" stroke="#6c34e4" stroke-width="0.85" fill="none"/>
<path d="M49,31.729 C48.95,41.729 51.17,49.729 51.68,59.729" stroke="#8a5ce0" stroke-width="0.85" fill="none"/>
<path d="M62,31.729 C62.90,41.729 61.15,49.729 62.96,59.729" stroke="#bdbdbd" stroke-width="0.85" fill="none"/>
<g filter="url(#fur)">
<use href="#mouse" transform="translate(9,2.3) scale(1.0,0.945)"/>
<use href="#mouse" transform="translate(23,2.3) scale(1.0,0.945)"/>
<use href="#mouse" transform="translate(36,2.3) scale(1.0,0.945)"/>
<use href="#mouse" transform="translate(49,2.3) scale(1.0,0.945)"/>
<use href="#mouse" transform="translate(62,2.3) scale(1.0,0.945)"/>
</g>
</g>
<g filter="url(#soft2)">
<g filter="url(#cloudblur)">
<path d="M20.5,27 C19.5,20 25,16.5 30,19 C31,15 35,13.5 37,17 C38.5,14 42,15 43,18.5 C48,17 55,20 55.5,27 C56,33.5 51,37 45.5,36 C42.5,37.5 39.5,39.5 37.6,43 C36,39.5 33.5,38 30,37.2 C24,38 21,33 20.5,27 Z" fill="#4a1cf4"/>
</g>
<ellipse cx="26" cy="27.8" rx="5.6" ry="6.0" fill="url(#L4i)"/>
<ellipse cx="40" cy="27" rx="5.0" ry="5.4" fill="url(#L4i)"/>
<ellipse cx="49.6" cy="27.7" rx="5.2" ry="5.6" fill="url(#L4i)"/>
<ellipse cx="10.8" cy="24.6" rx="5.40" ry="5.40" fill="url(#L3)"/>
<ellipse cx="66" cy="25.8" rx="5.15" ry="5.15" fill="url(#L2)"/>
</g>
</g>
<rect x="19.3" y="0.20" width="33.6" height="2.6" fill="#f8efef"/>
<rect x="22" y="1.20" width="10" height="0.7" fill="#e8a0a0"/><rect x="34" y="1.20" width="16" height="0.7" fill="#e8a0a0"/>
</g>
<g transform="translate(181.6,256.7)">
<clipPath id="cp32"><rect x="0.1" y="0.4" width="71.3" height="69.8"/></clipPath>
<g clip-path="url(#cp32)">
<g filter="url(#soft)">
<rect x="-3" y="-3" width="77.2" height="76.8" fill="url(#bgG)"/>
<rect x="-3" y="-3" width="77.2" height="8" fill="#0d0d0d" opacity="0.5"/>
<rect x="-3" y="0" width="77.2" height="26" fill="url(#topdark)"/>
<path d="M9.2,32.534 C8.35,42.534 6.62,50.534 5.38,60.534" stroke="#bdbdbd" stroke-width="0.85" fill="none"/>
<path d="M22.3,32.534 C22.75,42.534 23.47,50.534 23.74,60.534" stroke="#bdbdbd" stroke-width="0.85" fill="none"/>
<path d="M35.4,32.534 C35.35,42.534 37.57,50.534 38.08,60.534" stroke="#bdbdbd" stroke-width="0.85" fill="none"/>
<path d="M48.5,32.534 C49.70,42.534 49.30,50.534 52.46,60.534" stroke="#bdbdbd" stroke-width="0.85" fill="none"/>
<path d="M62.3,32.534 C62.70,42.534 64.00,50.534 64.86,60.534" stroke="#bdbdbd" stroke-width="0.85" fill="none"/>
<g filter="url(#fur)">
<use href="#mouse" transform="translate(9.2,2.3) scale(1.04,0.97)"/>
<use href="#mouse" transform="translate(22.3,2.3) scale(1.04,0.97)"/>
<use href="#mouse" transform="translate(35.4,2.3) scale(1.04,0.97)"/>
<use href="#mouse" transform="translate(48.5,2.3) scale(1.04,0.97)"/>
<use href="#mouse" transform="translate(62.3,2.3) scale(1.04,0.97)"/>
</g>
</g>
<g filter="url(#soft2)">
<ellipse cx="10.6" cy="26" rx="4.6" ry="3.6" fill="#c8a8ff" opacity="0.75"/>
<ellipse cx="9.2" cy="27" rx="1.95" ry="1.95" fill="url(#L1)"/>
<ellipse cx="13" cy="24.8" rx="1.95" ry="1.95" fill="url(#L1)"/>
<ellipse cx="25.4" cy="27.8" rx="4.94" ry="4.94" fill="url(#L1)"/>
<ellipse cx="54.2" cy="27.8" rx="4.90" ry="6.30" fill="url(#L4s)"/>
</g>
</g>
</g>
<g transform="translate(24.0,332.7)">
<clipPath id="cp40"><rect x="0.0" y="0.4" width="71.4" height="70.4"/></clipPath>
<g clip-path="url(#cp40)">
<g filter="url(#soft)">
<rect x="-3" y="-3" width="77.2" height="76.8" fill="url(#bgG)"/>
<rect x="-3" y="0.4" width="77.2" height="9.799999999999999" fill="url(#bandH)"/>
<rect x="-3" y="0.4" width="77.2" height="9.799999999999999" fill="url(#bandV)"/>
<rect x="-3" y="9.5" width="77.2" height="26" fill="url(#topdark)"/>
<path d="M9.5,39.2 C9.70,49.2 10.10,57.2 10.06,67.2" stroke="#6436c8" stroke-width="0.85" fill="none"/>
<path d="M22.5,39.2 C21.90,49.2 21.30,57.2 21.18,67.2" stroke="#6436c8" stroke-width="0.85" fill="none"/>
<path d="M35.5,39.2 C35.90,49.2 36.40,57.2 36.44,67.2" stroke="#6436c8" stroke-width="0.85" fill="none"/>
<path d="M48.5,39.2 C48.20,49.2 49.30,57.2 48.68,67.2" stroke="#6436c8" stroke-width="0.85" fill="none"/>
<path d="M61.5,39.2 C62.30,49.2 60.10,57.2 61.46,67.2" stroke="#6436c8" stroke-width="0.85" fill="none"/>
<g filter="url(#fur)">
<use href="#mouse" transform="translate(9.5,8.0) scale(1.0,1.0)"/>
<use href="#mouse" transform="translate(22.5,8.0) scale(1.0,1.0)"/>
<use href="#mouse" transform="translate(35.5,8.0) scale(1.0,1.0)"/>
<use href="#mouse" transform="translate(48.5,8.0) scale(1.0,1.0)"/>
<use href="#mouse" transform="translate(61.5,8.0) scale(1.0,1.0)"/>
</g>
</g>
<g filter="url(#soft2)">
<rect x="-3" y="8" width="77.2" height="66" fill="url(#fieldV)"/>
<rect x="-3" y="8" width="77.2" height="60" fill="url(#fieldH)"/>
<ellipse cx="9.5" cy="34" rx="7.5" ry="17" fill="url(#GB)"/>
<ellipse cx="22.5" cy="34" rx="7.5" ry="17" fill="url(#GB)"/>
<ellipse cx="35.5" cy="34" rx="7.5" ry="17" fill="url(#GB)"/>
<ellipse cx="48.5" cy="34" rx="7.5" ry="17" fill="url(#GB)"/>
<ellipse cx="61.5" cy="34" rx="7.5" ry="17" fill="url(#GB)"/>
<ellipse cx="9.5" cy="18" rx="6" ry="8" fill="url(#PL)"/>
<path d="M9.5,7.8 L11.4,13.8 L9.5,15.8 L7.6,13.8 Z" fill="#ebe2ff"/>
<ellipse cx="22.5" cy="18" rx="6" ry="8" fill="url(#PL)"/>
<path d="M22.5,7.8 L24.4,13.8 L22.5,15.8 L20.6,13.8 Z" fill="#ebe2ff"/>
<ellipse cx="35.5" cy="18" rx="6" ry="8" fill="url(#PL)"/>
<path d="M35.5,7.8 L37.4,13.8 L35.5,15.8 L33.6,13.8 Z" fill="#ebe2ff"/>
<ellipse cx="48.5" cy="18" rx="6" ry="8" fill="url(#PL)"/>
<path d="M48.5,7.8 L50.4,13.8 L48.5,15.8 L46.6,13.8 Z" fill="#ebe2ff"/>
<ellipse cx="61.5" cy="18" rx="6" ry="8" fill="url(#PL)"/>
<path d="M61.5,7.8 L63.4,13.8 L61.5,15.8 L59.6,13.8 Z" fill="#ebe2ff"/>
<path d="M12.0,41 L12.2,51" stroke="#30c0ff" stroke-width="1.4"/>
<path d="M12.2,51 L12.4,65" stroke="#3468ff" stroke-width="1.2" opacity="0.95"/>
<path d="M24.8,38 L25.0,48" stroke="#30c0ff" stroke-width="1.4"/>
<path d="M25.0,48 L25.2,62" stroke="#3468ff" stroke-width="1.2" opacity="0.95"/>
<path d="M37.4,35 L37.6,45" stroke="#30c0ff" stroke-width="1.4"/>
<path d="M37.6,45 L37.8,59" stroke="#3468ff" stroke-width="1.2" opacity="0.95"/>
<path d="M49.6,40 L49.800000000000004,50" stroke="#30c0ff" stroke-width="1.4"/>
<path d="M49.800000000000004,50 L50.0,64" stroke="#3468ff" stroke-width="1.2" opacity="0.95"/>
<path d="M61.0,38.5 L61.2,48.5" stroke="#30c0ff" stroke-width="1.4"/>
<path d="M61.2,48.5 L61.4,62.5" stroke="#3468ff" stroke-width="1.2" opacity="0.95"/>
<ellipse cx="11.6" cy="35.4" rx="6.8" ry="7.4" fill="url(#L5)"/>
<ellipse cx="24.6" cy="34.3" rx="5.2" ry="5.4" fill="url(#L5)"/>
<ellipse cx="37.8" cy="29" rx="6.8" ry="8" fill="url(#L5)"/>
<ellipse cx="49.4" cy="35.4" rx="6.4" ry="6.4" fill="url(#L5)"/>
<ellipse cx="60.8" cy="32.4" rx="6.2" ry="8" fill="url(#L5)"/>
<path d="M37.8,22 L39.6,17.5" stroke="#30d0ff" stroke-width="1.5"/>
</g>
</g>
<rect x="19.3" y="0.20" width="33.6" height="2.6" fill="#f8efef"/>
<rect x="22" y="1.20" width="10" height="0.7" fill="#e8a0a0"/><rect x="34" y="1.20" width="16" height="0.7" fill="#e8a0a0"/>
</g>
<g transform="translate(102.3,332.7)">
<clipPath id="cp41"><rect x="-0.8" y="0.4" width="72.3" height="70.4"/></clipPath>
<g clip-path="url(#cp41)">
<g filter="url(#soft)">
<rect x="-3" y="-3" width="77.2" height="76.8" fill="url(#bgG)"/>
<rect x="-3" y="0.4" width="77.2" height="9.799999999999999" fill="url(#bandH)"/>
<rect x="-3" y="0.4" width="77.2" height="9.799999999999999" fill="url(#bandV)"/>
<rect x="-3" y="9.5" width="77.2" height="26" fill="url(#topdark)"/>
<path d="M9.5,39.2 C8.90,49.2 8.30,57.2 8.18,67.2" stroke="#6436c8" stroke-width="0.85" fill="none"/>
<path d="M23,39.2 C23.40,49.2 23.90,57.2 23.94,67.2" stroke="#6436c8" stroke-width="0.85" fill="none"/>
<path d="M36,39.2 C35.70,49.2 36.80,57.2 36.18,67.2" stroke="#6436c8" stroke-width="0.85" fill="none"/>
<path d="M49,39.2 C49.80,49.2 47.60,57.2 48.96,67.2" stroke="#6436c8" stroke-width="0.85" fill="none"/>
<path d="M62,39.2 C62.20,49.2 62.60,57.2 62.56,67.2" stroke="#6436c8" stroke-width="0.85" fill="none"/>
<g filter="url(#fur)">
<use href="#mouse" transform="translate(9.5,8.0) scale(1.0,1.0)"/>
<use href="#mouse" transform="translate(23,8.0) scale(1.0,1.0)"/>
<use href="#mouse" transform="translate(36,8.0) scale(1.0,1.0)"/>
<use href="#mouse" transform="translate(49,8.0) scale(1.0,1.0)"/>
<use href="#mouse" transform="translate(62,8.0) scale(1.0,1.0)"/>
</g>
</g>
<g filter="url(#soft2)">
<g filter="url(#cloudblur)">
<path d="M5,24 C4,17 9,13.5 13,15 C16,12 22,12 25.5,15 C29,12 35,12 38,15 C41,12 47,12 51,15 C55,12 61,12.5 64,15.5 C68,14 71,18 71,24 L71,30 L5,30 Z" fill="#9a74f2" opacity="0.85"/>
<path d="M4,31 C3,24 8,20.5 14,21.5 C19,19 27,19 32,21.5 C37,19 47,19 52,21.5 C58,19 68,20 71,26 C73,33 72,41 66,43 C63,49 54,51 47,47.5 C41,52 33,51 29,47 C23,49.5 15,48 12,43 C6,40.5 4.5,36 4,31 Z" fill="#4c20f8"/>
</g>
<ellipse cx="13" cy="32" rx="9.5" ry="10.924999999999999" fill="url(#GB)"/>
<ellipse cx="25.8" cy="32.8" rx="10.5" ry="12.075" fill="url(#GB)"/>
<ellipse cx="41" cy="33" rx="11" ry="12.649999999999999" fill="url(#GB)"/>
<ellipse cx="51" cy="34.6" rx="11" ry="12.649999999999999" fill="url(#GB)"/>
<ellipse cx="66" cy="31.5" rx="9.5" ry="10.924999999999999" fill="url(#GB)"/>
<path d="M9.5,7.2 L12.2,16.5 L11.3,21 L7.7,21 L6.8,16.5 Z" fill="#f4f0ff"/>
<path d="M23,7.2 L25.7,16.5 L24.8,21 L21.2,21 L20.3,16.5 Z" fill="#f4f0ff"/>
<path d="M36,7.2 L38.7,16.5 L37.8,21 L34.2,21 L33.3,16.5 Z" fill="#f4f0ff"/>
<path d="M49,7.2 L51.7,16.5 L50.8,21 L47.2,21 L46.3,16.5 Z" fill="#f4f0ff"/>
<path d="M62,7.2 L64.7,16.5 L63.8,21 L60.2,21 L59.3,16.5 Z" fill="#f4f0ff"/>
<path d="M12.4,40 C12.0,48 13.0,56 12.4,64" stroke="#7034ec" stroke-width="1.2" fill="none" opacity="0.95"/>
<path d="M25.4,42 C25.0,50 26.0,58 25.4,66" stroke="#7034ec" stroke-width="1.2" fill="none" opacity="0.95"/>
<path d="M40.6,41 C40.2,49 41.2,57 40.6,65" stroke="#7034ec" stroke-width="1.2" fill="none" opacity="0.95"/>
<path d="M51.4,42 C51.0,50 52.0,58 51.4,66" stroke="#7034ec" stroke-width="1.2" fill="none" opacity="0.95"/>
<path d="M63.6,40 C63.2,48 64.2,56 63.6,64" stroke="#7034ec" stroke-width="1.2" fill="none" opacity="0.95"/>
<ellipse cx="13" cy="32.4" rx="4.8" ry="5.4" fill="url(#L5)"/>
<ellipse cx="25.8" cy="32.8" rx="5.8" ry="6.4" fill="url(#L5)"/>
<ellipse cx="41" cy="32.8" rx="5.2" ry="5.8" fill="url(#L5)"/>
<ellipse cx="51" cy="34.6" rx="6.2" ry="6.2" fill="url(#L5)"/>
<ellipse cx="66.2" cy="31.6" rx="4.6" ry="5.8" fill="url(#L5)"/>
<path d="M39,31 C37.5,34 37.6,38 38.4,42" stroke="#30c8ff" stroke-width="1.3" fill="none"/>
</g>
</g>
<rect x="19.3" y="0.20" width="33.6" height="2.6" fill="#f8efef"/>
<rect x="22" y="1.20" width="10" height="0.7" fill="#e8a0a0"/><rect x="34" y="1.20" width="16" height="0.7" fill="#e8a0a0"/>
</g>
<g transform="translate(181.6,332.7)">
<clipPath id="cp42"><rect x="0.1" y="0.4" width="71.3" height="70.4"/></clipPath>
<g clip-path="url(#cp42)">
<g filter="url(#soft)">
<rect x="-3" y="-3" width="77.2" height="76.8" fill="url(#bgG)"/>
<rect x="-3" y="0.4" width="77.2" height="9.799999999999999" fill="url(#bandH)"/>
<rect x="-3" y="0.4" width="77.2" height="9.799999999999999" fill="url(#bandV)"/>
<rect x="-3" y="9.5" width="77.2" height="26" fill="url(#topdark)"/>
<path d="M10.3,38.268 C10.00,48.268 7.35,56.268 4.24,66.268" stroke="#bdbdbd" stroke-width="0.85" fill="none"/>
<path d="M23.4,38.268 C23.50,48.268 26.40,56.268 27.58,66.268" stroke="#bdbdbd" stroke-width="0.85" fill="none"/>
<path d="M36.5,38.268 C37.15,48.268 34.27,56.268 34.96,66.268" stroke="#bdbdbd" stroke-width="0.85" fill="none"/>
<path d="M49.5,38.268 C49.75,48.268 50.38,56.268 50.56,66.268" stroke="#bdbdbd" stroke-width="0.85" fill="none"/>
<path d="M62.6,38.268 C62.15,48.268 62.23,56.268 62.78,66.268" stroke="#bdbdbd" stroke-width="0.85" fill="none"/>
<g filter="url(#fur)">
<use href="#mouse" transform="translate(10.3,9.0) scale(1.03,0.94)"/>
<use href="#mouse" transform="translate(23.4,9.0) scale(1.03,0.94)"/>
<use href="#mouse" transform="translate(36.5,9.0) scale(1.03,0.94)"/>
<use href="#mouse" transform="translate(49.5,9.0) scale(1.03,0.94)"/>
<use href="#mouse" transform="translate(62.6,9.0) scale(1.03,0.94)"/>
</g>
</g>
<g filter="url(#soft2)">
<ellipse cx="12.3" cy="33.4" rx="4.16" ry="4.16" fill="url(#L1)"/>
<ellipse cx="25" cy="33.8" rx="3.64" ry="3.64" fill="url(#L1)"/>
</g>
</g>
</g>
<g>
<rect x="256.2" y="161.4" width="6.1" height="127.2" fill="url(#cbar)"/>
<rect x="262.3" y="159.95" width="3.2" height="0.5" fill="#555"/>
<rect x="262.3" y="172.88" width="2.0" height="0.5" fill="#555"/>
<rect x="262.3" y="185.80" width="3.2" height="0.5" fill="#555"/>
<rect x="262.3" y="198.72" width="2.0" height="0.5" fill="#555"/>
<rect x="262.3" y="211.65" width="3.2" height="0.5" fill="#555"/>
<rect x="262.3" y="224.58" width="2.0" height="0.5" fill="#555"/>
<rect x="262.3" y="237.50" width="3.2" height="0.5" fill="#555"/>
<rect x="262.3" y="250.43" width="2.0" height="0.5" fill="#555"/>
<rect x="262.3" y="263.35" width="3.2" height="0.5" fill="#555"/>
<rect x="262.3" y="276.28" width="2.0" height="0.5" fill="#555"/>
<text x="266.6" y="161.6" font-size="3.6" fill="#444">1.0</text>
<text x="266.6" y="187.4" font-size="3.6" fill="#444">0.8</text>
<text x="266.6" y="213.2" font-size="3.6" fill="#444">0.6</text>
<text x="266.6" y="239.0" font-size="3.6" fill="#444">0.4</text>
<text x="266.6" y="264.8" font-size="3.6" fill="#444">0.2</text>
<text x="256.2" y="155.8" font-size="3.7" fill="#444" textLength="25" lengthAdjust="spacingAndGlyphs">Luminescence</text>
<text x="276.2" y="224.6" font-size="3.4" fill="#444">x10</text><text x="282.2" y="223.2" font-size="2.4" fill="#444">8</text>
<text x="256.2" y="300.4" font-size="3.9" fill="#222">Radiance</text>
<text x="256.2" y="305.2" font-size="3.9" fill="#222" textLength="26.5" lengthAdjust="spacingAndGlyphs">(p/sec/cm²/sr)</text>
<rect x="256.7" y="310.5" width="26.3" height="15.6" fill="#fff" stroke="#444" stroke-width="0.6"/>
<text x="258" y="314.8" font-size="3.8" fill="#111">Color Scale</text>
<text x="258" y="319.4" font-size="3.8" fill="#111">Min = 1.00e6</text>
<text x="258" y="324" font-size="3.8" fill="#111">Max = 1.00e8</text>
</g>
<path d="M343.0,35.5 L343.0,169.5 L511.5,169.5" stroke="#8a8a8a" stroke-width="0.9" fill="none"/>
<path d="M340.0,35.50 L343.0,35.50" stroke="#8a8a8a" stroke-width="0.9"/>
<text x="333.2" y="38.8" font-size="9.1" font-weight="bold" text-anchor="end" fill="#000" stroke="#000" stroke-width="0.22" textLength="28.2" lengthAdjust="spacingAndGlyphs">1.2E+9</text>
<path d="M340.0,57.83 L343.0,57.83" stroke="#8a8a8a" stroke-width="0.9"/>
<text x="333.2" y="61.13" font-size="9.1" font-weight="bold" text-anchor="end" fill="#000" stroke="#000" stroke-width="0.22" textLength="28.2" lengthAdjust="spacingAndGlyphs">1.0E+9</text>
<path d="M340.0,80.17 L343.0,80.17" stroke="#8a8a8a" stroke-width="0.9"/>
<text x="333.2" y="83.47" font-size="9.1" font-weight="bold" text-anchor="end" fill="#000" stroke="#000" stroke-width="0.22" textLength="28.2" lengthAdjust="spacingAndGlyphs">8.0E+8</text>
<path d="M340.0,102.50 L343.0,102.50" stroke="#8a8a8a" stroke-width="0.9"/>
<text x="333.2" y="105.8" font-size="9.1" font-weight="bold" text-anchor="end" fill="#000" stroke="#000" stroke-width="0.22" textLength="28.2" lengthAdjust="spacingAndGlyphs">6.0E+8</text>
<path d="M340.0,124.83 L343.0,124.83" stroke="#8a8a8a" stroke-width="0.9"/>
<text x="333.2" y="128.13" font-size="9.1" font-weight="bold" text-anchor="end" fill="#000" stroke="#000" stroke-width="0.22" textLength="28.2" lengthAdjust="spacingAndGlyphs">4.0E+8</text>
<path d="M340.0,147.17 L343.0,147.17" stroke="#8a8a8a" stroke-width="0.9"/>
<text x="333.2" y="150.47" font-size="9.1" font-weight="bold" text-anchor="end" fill="#000" stroke="#000" stroke-width="0.22" textLength="28.2" lengthAdjust="spacingAndGlyphs">2.0E+8</text>
<path d="M340.0,169.50 L343.0,169.50" stroke="#8a8a8a" stroke-width="0.9"/>
<text x="333.2" y="172.8" font-size="9.1" font-weight="bold" text-anchor="end" fill="#000" stroke="#000" stroke-width="0.22" textLength="28.2" lengthAdjust="spacingAndGlyphs">0.0E+0</text>
<path d="M343.00,169.5 L343.00,172.5" stroke="#8a8a8a" stroke-width="0.9"/>
<text x="343.0" y="190.0" font-size="10.4" font-weight="bold" text-anchor="middle" fill="#000" stroke="#000" stroke-width="0.22" textLength="5.6" lengthAdjust="spacingAndGlyphs">0</text>
<path d="M410.50,169.5 L410.50,172.5" stroke="#8a8a8a" stroke-width="0.9"/>
<text x="410.5" y="190.0" font-size="10.4" font-weight="bold" text-anchor="middle" fill="#000" stroke="#000" stroke-width="0.22" textLength="11.4" lengthAdjust="spacingAndGlyphs">20</text>
<path d="M478.00,169.5 L478.00,172.5" stroke="#8a8a8a" stroke-width="0.9"/>
<text x="478.0" y="190.0" font-size="10.4" font-weight="bold" text-anchor="middle" fill="#000" stroke="#000" stroke-width="0.22" textLength="11.4" lengthAdjust="spacingAndGlyphs">40</text>
<text x="351" y="201.6" font-size="10.8" font-weight="bold" text-anchor="start" fill="#000" stroke="#000" stroke-width="0.22" textLength="148" lengthAdjust="spacingAndGlyphs">Days post tumor inoculation</text>
<text transform="translate(297.0,155.6) rotate(-90)" stroke="#000" stroke-width="0.22" font-size="11" font-weight="bold" text-anchor="start" textLength="60.6" lengthAdjust="spacingAndGlyphs">Radiance (p</text>
<text transform="translate(297.0,94.9) rotate(-90)" stroke="#000" stroke-width="0.22" font-size="11" font-weight="bold" text-anchor="start" textLength="65.8" lengthAdjust="spacingAndGlyphs">/sec/cm²/sr)</text>
<path d="M353,45.5 L376,45.5" stroke="#4a7ebb" stroke-width="2.3"/>
<path d="M364.5,42.146 L368.4,45.5 L364.5,48.854 L360.6,45.5 Z" fill="#4a7ebb"/>
<text x="379" y="48.6" font-size="10.3" font-weight="bold" text-anchor="start" fill="#000" stroke="#000" stroke-width="0.22" textLength="20.4" lengthAdjust="spacingAndGlyphs">GFP</text>
<path d="M353,65.5 L376,65.5" stroke="#be4b48" stroke-width="2.3"/>
<rect x="361.0" y="62.0" width="7.0" height="7.0" fill="#be4b48"/>
<text x="379" y="68.6" font-size="10.3" font-weight="bold" text-anchor="start" fill="#000" stroke="#000" stroke-width="0.22" textLength="50.6" lengthAdjust="spacingAndGlyphs">CD19-28Z</text>
<path d="M353,85.5 L376,85.5" stroke="#97b850" stroke-width="2.3"/>
<path d="M364.5,82.16 L368.3,88.81 L360.7,88.81 Z" fill="#97b850"/>
<text x="379" y="88.6" font-size="10.3" font-weight="bold" text-anchor="start" fill="#000" stroke="#000" stroke-width="0.22" textLength="52.0" lengthAdjust="spacingAndGlyphs">m909-28Z</text>
<path d="M368.8,132.5 L368.8,156.0" stroke="#0a0a0a" stroke-width="1.7" fill="none"/><path d="M365.5,151.79999999999998 L368.8,157.2 L372.1,151.79999999999998" stroke="#0a0a0a" stroke-width="1.5" fill="none" stroke-linecap="round" stroke-linejoin="miter"/>
<path d="M377.0,132.5 L377.0,156.0" stroke="#0a0a0a" stroke-width="1.7" fill="none"/><path d="M373.7,151.79999999999998 L377.0,157.2 L380.3,151.79999999999998" stroke="#0a0a0a" stroke-width="1.5" fill="none" stroke-linecap="round" stroke-linejoin="miter"/>
<path d="M498.25,57 L498.25,94 M495.95,57 L500.55,57 M495.95,94 L500.55,94" stroke="#2a2a2a" stroke-width="1.0" fill="none"/>
<path d="M498.25,105 L498.25,137.8 M495.95,105 L500.55,105 M495.95,137.8 L500.55,137.8" stroke="#2a2a2a" stroke-width="1.0" fill="none"/>
<path d="M464.5,157.5 L464.5,163.5 M462.9,157.5 L466.1,157.5 M462.9,163.5 L466.1,163.5" stroke="#2a2a2a" stroke-width="1.0" fill="none"/>
<polyline points="343.00,168.90 353.12,168.90 370.00,168.90 376.75,168.90 393.62,168.90 430.75,168.90 464.50,160.00 498.25,75.00" fill="none" stroke="#4a7ebb" stroke-width="2.8" stroke-linejoin="round"/>
<polyline points="343.00,168.90 353.12,168.90 370.00,168.90 376.75,168.90 393.62,168.90 430.75,168.90 464.50,160.60 498.25,121.80" fill="none" stroke="#be4b48" stroke-width="2.8" stroke-linejoin="round"/>
<polyline points="343.00,169.00 353.12,169.00 370.00,169.00 376.75,169.00 393.62,169.00 430.75,169.00 464.50,169.00 498.25,169.00" fill="none" stroke="#97b850" stroke-width="2.8" stroke-linejoin="round"/>
<path d="M343.0,164.858 L347.7,168.9 L343.0,172.942 L338.3,168.9 Z" fill="#4a7ebb"/>
<path d="M353.125,164.858 L357.825,168.9 L353.125,172.942 L348.425,168.9 Z" fill="#4a7ebb"/>
<path d="M370.0,164.858 L374.7,168.9 L370.0,172.942 L365.3,168.9 Z" fill="#4a7ebb"/>
<path d="M376.75,164.858 L381.45,168.9 L376.75,172.942 L372.05,168.9 Z" fill="#4a7ebb"/>
<path d="M393.625,164.858 L398.325,168.9 L393.625,172.942 L388.925,168.9 Z" fill="#4a7ebb"/>
<path d="M430.75,164.858 L435.45,168.9 L430.75,172.942 L426.05,168.9 Z" fill="#4a7ebb"/>
<path d="M464.5,155.958 L469.2,160.0 L464.5,164.042 L459.8,160.0 Z" fill="#4a7ebb"/>
<path d="M498.25,70.958 L502.95,75.0 L498.25,79.042 L493.55,75.0 Z" fill="#4a7ebb"/>
<rect x="338.8" y="164.70000000000002" width="8.4" height="8.4" fill="#be4b48"/>
<rect x="348.925" y="164.70000000000002" width="8.4" height="8.4" fill="#be4b48"/>
<rect x="365.8" y="164.70000000000002" width="8.4" height="8.4" fill="#be4b48"/>
<rect x="372.55" y="164.70000000000002" width="8.4" height="8.4" fill="#be4b48"/>
<rect x="389.425" y="164.70000000000002" width="8.4" height="8.4" fill="#be4b48"/>
<rect x="426.55" y="164.70000000000002" width="8.4" height="8.4" fill="#be4b48"/>
<rect x="460.3" y="156.4" width="8.4" height="8.4" fill="#be4b48"/>
<rect x="494.05" y="117.6" width="8.4" height="8.4" fill="#be4b48"/>
<path d="M343.0,165.07999999999998 L347.4,172.78 L338.6,172.78 Z" fill="#97b850"/>
<path d="M353.125,165.07999999999998 L357.525,172.78 L348.725,172.78 Z" fill="#97b850"/>
<path d="M370.0,165.07999999999998 L374.4,172.78 L365.6,172.78 Z" fill="#97b850"/>
<path d="M376.75,165.07999999999998 L381.15,172.78 L372.35,172.78 Z" fill="#97b850"/>
<path d="M393.625,165.07999999999998 L398.025,172.78 L389.225,172.78 Z" fill="#97b850"/>
<path d="M430.75,165.07999999999998 L435.15,172.78 L426.35,172.78 Z" fill="#97b850"/>
<path d="M464.5,165.07999999999998 L468.9,172.78 L460.1,172.78 Z" fill="#97b850"/>
<path d="M498.25,165.07999999999998 L502.65,172.78 L493.85,172.78 Z" fill="#97b850"/>
<path d="M503.5,72.5 Q505.5,72.5 505.5,74.5 L505.5,95.0 L507.3,96.2 L505.5,97.4 L505.5,120.5 Q505.5,122.5 503.5,122.5" stroke="#444" stroke-width="0.7" fill="none"/>
<text x="508.8" y="99.8" font-size="10.6" font-weight="bold" text-anchor="start" fill="#000" stroke="#000" stroke-width="0.22" textLength="11.2" lengthAdjust="spacingAndGlyphs">ns</text>
<path d="M503.5,122.5 Q505.5,122.5 505.5,124.5 L505.5,143.4 L507.3,144.6 L505.5,145.79999999999998 L505.5,164.5 Q505.5,166.5 503.5,166.5" stroke="#444" stroke-width="0.7" fill="none"/>
<text x="512.70" y="154.70" font-size="17.5" font-weight="normal" text-anchor="middle" fill="#222">*</text>
<path d="M466.6,158 L471,158 L471,168.8 L466.6,168.8" stroke="#444" stroke-width="0.7" fill="none"/>
<text x="479.10" y="173.90" font-size="17.5" font-weight="normal" text-anchor="middle" fill="#222">*</text>
<text x="440.10" y="175.40" font-size="13" font-weight="bold" text-anchor="middle" fill="#000">*</text>
<path d="M339.9,248.0 L339.9,379.5 L512.5,379.5" stroke="#8a8a8a" stroke-width="0.9" fill="none"/>
<path d="M336.9,248.00 L339.9,248.00" stroke="#8a8a8a" stroke-width="0.9"/>
<text x="329.9" y="251.3" font-size="9.1" font-weight="bold" text-anchor="end" fill="#000" stroke="#000" stroke-width="0.22" textLength="19.8" lengthAdjust="spacingAndGlyphs">4000</text>
<path d="M336.9,264.44 L339.9,264.44" stroke="#8a8a8a" stroke-width="0.9"/>
<text x="329.9" y="267.74" font-size="9.1" font-weight="bold" text-anchor="end" fill="#000" stroke="#000" stroke-width="0.22" textLength="19.8" lengthAdjust="spacingAndGlyphs">3500</text>
<path d="M336.9,280.88 L339.9,280.88" stroke="#8a8a8a" stroke-width="0.9"/>
<text x="329.9" y="284.18" font-size="9.1" font-weight="bold" text-anchor="end" fill="#000" stroke="#000" stroke-width="0.22" textLength="19.8" lengthAdjust="spacingAndGlyphs">3000</text>
<path d="M336.9,297.31 L339.9,297.31" stroke="#8a8a8a" stroke-width="0.9"/>
<text x="329.9" y="300.61" font-size="9.1" font-weight="bold" text-anchor="end" fill="#000" stroke="#000" stroke-width="0.22" textLength="19.8" lengthAdjust="spacingAndGlyphs">2500</text>
<path d="M336.9,313.75 L339.9,313.75" stroke="#8a8a8a" stroke-width="0.9"/>
<text x="329.9" y="317.05" font-size="9.1" font-weight="bold" text-anchor="end" fill="#000" stroke="#000" stroke-width="0.22" textLength="19.8" lengthAdjust="spacingAndGlyphs">2000</text>
<path d="M336.9,330.19 L339.9,330.19" stroke="#8a8a8a" stroke-width="0.9"/>
<text x="329.9" y="333.49" font-size="9.1" font-weight="bold" text-anchor="end" fill="#000" stroke="#000" stroke-width="0.22" textLength="19.8" lengthAdjust="spacingAndGlyphs">1500</text>
<path d="M336.9,346.62 L339.9,346.62" stroke="#8a8a8a" stroke-width="0.9"/>
<text x="329.9" y="349.93" font-size="9.1" font-weight="bold" text-anchor="end" fill="#000" stroke="#000" stroke-width="0.22" textLength="19.8" lengthAdjust="spacingAndGlyphs">1000</text>
<path d="M336.9,363.06 L339.9,363.06" stroke="#8a8a8a" stroke-width="0.9"/>
<text x="329.9" y="366.36" font-size="9.1" font-weight="bold" text-anchor="end" fill="#000" stroke="#000" stroke-width="0.22" textLength="14.9" lengthAdjust="spacingAndGlyphs">500</text>
<path d="M336.9,379.50 L339.9,379.50" stroke="#8a8a8a" stroke-width="0.9"/>
<text x="329.9" y="382.8" font-size="9.1" font-weight="bold" text-anchor="end" fill="#000" stroke="#000" stroke-width="0.22" textLength="5.0" lengthAdjust="spacingAndGlyphs">0</text>
<path d="M340.00,379.5 L340.00,382.5" stroke="#8a8a8a" stroke-width="0.9"/>
<text x="339.4" y="399.4" font-size="10.4" font-weight="bold" text-anchor="middle" fill="#000" stroke="#000" stroke-width="0.22" textLength="5.6" lengthAdjust="spacingAndGlyphs">0</text>
<path d="M409.50,379.5 L409.50,382.5" stroke="#8a8a8a" stroke-width="0.9"/>
<text x="408.9" y="399.4" font-size="10.4" font-weight="bold" text-anchor="middle" fill="#000" stroke="#000" stroke-width="0.22" textLength="11.4" lengthAdjust="spacingAndGlyphs">20</text>
<path d="M479.00,379.5 L479.00,382.5" stroke="#8a8a8a" stroke-width="0.9"/>
<text x="478.4" y="399.4" font-size="10.4" font-weight="bold" text-anchor="middle" fill="#000" stroke="#000" stroke-width="0.22" textLength="11.4" lengthAdjust="spacingAndGlyphs">40</text>
<text x="356.2" y="416.6" font-size="10.8" font-weight="bold" text-anchor="start" fill="#000" stroke="#000" stroke-width="0.22" textLength="148" lengthAdjust="spacingAndGlyphs">Days post tumor inoculation</text>
<text transform="translate(304.7,304.4) rotate(-90)" stroke="#000" stroke-width="0.22" font-size="11.5" font-weight="bold" text-anchor="middle" textLength="113.4" lengthAdjust="spacingAndGlyphs">Tumor Volume (mm³)</text>
<path d="M351,260.8 L374,260.8" stroke="#4a7ebb" stroke-width="2.3"/>
<path d="M362.5,257.446 L366.4,260.8 L362.5,264.154 L358.6,260.8 Z" fill="#4a7ebb"/>
<text x="376.2" y="264.40000000000003" font-size="10.3" font-weight="bold" text-anchor="start" fill="#000" stroke="#000" stroke-width="0.22" textLength="20.4" lengthAdjust="spacingAndGlyphs">GFP</text>
<path d="M351,280.8 L374,280.8" stroke="#be4b48" stroke-width="2.3"/>
<rect x="359.0" y="277.3" width="7.0" height="7.0" fill="#be4b48"/>
<text x="376.2" y="284.40000000000003" font-size="10.3" font-weight="bold" text-anchor="start" fill="#000" stroke="#000" stroke-width="0.22" textLength="50.6" lengthAdjust="spacingAndGlyphs">CD19-28Z</text>
<path d="M351,300.8 L374,300.8" stroke="#97b850" stroke-width="2.3"/>
<path d="M362.5,297.46 L366.3,304.11 L358.7,304.11 Z" fill="#97b850"/>
<text x="376.2" y="304.40000000000003" font-size="10.3" font-weight="bold" text-anchor="start" fill="#000" stroke="#000" stroke-width="0.22" textLength="52.0" lengthAdjust="spacingAndGlyphs">m909-28Z</text>
<path d="M365.0,347.5 L365.0,369.6" stroke="#0a0a0a" stroke-width="1.7" fill="none"/><path d="M361.7,365.40000000000003 L365.0,370.8 L368.3,365.40000000000003" stroke="#0a0a0a" stroke-width="1.5" fill="none" stroke-linecap="round" stroke-linejoin="miter"/>
<path d="M373.8,347.5 L373.8,369.6" stroke="#0a0a0a" stroke-width="1.7" fill="none"/><path d="M370.5,365.40000000000003 L373.8,370.8 L377.1,365.40000000000003" stroke="#0a0a0a" stroke-width="1.5" fill="none" stroke-linecap="round" stroke-linejoin="miter"/>
<path d="M489.425,259.5 L489.425,302.5 M487.125,259.5 L491.725,259.5 M487.125,302.5 L491.725,302.5" stroke="#2a2a2a" stroke-width="1.0" fill="none"/>
<path d="M489.425,292.5 L489.425,328.0 M487.125,292.5 L491.725,292.5 M487.125,328.0 L491.725,328.0" stroke="#2a2a2a" stroke-width="1.0" fill="none"/>
<path d="M468.57500000000005,326.0 L468.57500000000005,346.4 M466.27500000000003,326.0 L470.87500000000006,326.0 M466.27500000000003,346.4 L470.87500000000006,346.4" stroke="#2a2a2a" stroke-width="1.0" fill="none"/>
<path d="M468.57500000000005,339.0 L468.57500000000005,355.2 M466.27500000000003,339.0 L470.87500000000006,339.0 M466.27500000000003,355.2 L470.87500000000006,355.2" stroke="#2a2a2a" stroke-width="1.0" fill="none"/>
<path d="M454.675,347.0 L454.675,357.0 M452.375,347.0 L456.975,347.0 M452.375,357.0 L456.975,357.0" stroke="#2a2a2a" stroke-width="1.0" fill="none"/>
<path d="M454.675,354.0 L454.675,365.2 M452.375,354.0 L456.975,354.0 M452.375,365.2 L456.975,365.2" stroke="#2a2a2a" stroke-width="1.0" fill="none"/>
<path d="M440.775,366.0 L440.775,372.0 M439.275,366.0 L442.275,366.0 M439.275,372.0 L442.275,372.0" stroke="#2a2a2a" stroke-width="1.0" fill="none"/>
<path d="M454.675,373.4 L454.675,379.0 M453.175,373.4 L456.175,373.4 M453.175,379.0 L456.175,379.0" stroke="#2a2a2a" stroke-width="1.0" fill="none"/>
<polyline points="340.00,378.90 350.43,378.90 374.75,378.90 399.07,378.90 423.40,377.40 433.82,374.40 440.77,368.80 454.68,351.80 468.58,336.20 489.43,281.20" fill="none" stroke="#4a7ebb" stroke-width="2.8" stroke-linejoin="round"/>
<polyline points="340.00,378.90 350.43,378.90 374.75,378.90 399.07,378.90 423.40,376.20 433.82,374.60 440.77,372.00 454.68,359.40 468.58,347.00 489.43,310.40" fill="none" stroke="#be4b48" stroke-width="2.8" stroke-linejoin="round"/>
<polyline points="340.00,379.00 350.43,379.00 374.75,379.00 399.07,379.00 423.40,378.60 433.82,378.40 440.77,378.00 454.68,376.20 468.58,377.00 489.43,378.60" fill="none" stroke="#97b850" stroke-width="2.8" stroke-linejoin="round"/>
<path d="M340.0,375.03 L344.5,378.9 L340.0,382.77 L335.5,378.9 Z" fill="#4a7ebb"/>
<path d="M350.425,375.03 L354.925,378.9 L350.425,382.77 L345.925,378.9 Z" fill="#4a7ebb"/>
<path d="M374.75,375.03 L379.25,378.9 L374.75,382.77 L370.25,378.9 Z" fill="#4a7ebb"/>
<path d="M399.075,375.03 L403.575,378.9 L399.075,382.77 L394.575,378.9 Z" fill="#4a7ebb"/>
<path d="M423.4,373.53 L427.9,377.4 L423.4,381.27 L418.9,377.4 Z" fill="#4a7ebb"/>
<path d="M433.825,370.53 L438.325,374.4 L433.825,378.27 L429.325,374.4 Z" fill="#4a7ebb"/>
<path d="M440.775,364.93 L445.275,368.8 L440.775,372.67 L436.275,368.8 Z" fill="#4a7ebb"/>
<path d="M454.675,347.93 L459.175,351.8 L454.675,355.67 L450.175,351.8 Z" fill="#4a7ebb"/>
<path d="M468.57500000000005,332.33 L473.07500000000005,336.2 L468.57500000000005,340.07 L464.07500000000005,336.2 Z" fill="#4a7ebb"/>
<path d="M489.425,277.33 L493.925,281.2 L489.425,285.07 L484.925,281.2 Z" fill="#4a7ebb"/>
<rect x="336.0" y="374.9" width="8.0" height="8.0" fill="#be4b48"/>
<rect x="346.425" y="374.9" width="8.0" height="8.0" fill="#be4b48"/>
<rect x="370.75" y="374.9" width="8.0" height="8.0" fill="#be4b48"/>
<rect x="395.075" y="374.9" width="8.0" height="8.0" fill="#be4b48"/>
<rect x="419.4" y="372.2" width="8.0" height="8.0" fill="#be4b48"/>
<rect x="429.825" y="370.6" width="8.0" height="8.0" fill="#be4b48"/>
<rect x="436.775" y="368.0" width="8.0" height="8.0" fill="#be4b48"/>
<rect x="450.675" y="355.4" width="8.0" height="8.0" fill="#be4b48"/>
<rect x="464.57500000000005" y="343.0" width="8.0" height="8.0" fill="#be4b48"/>
<rect x="485.425" y="306.4" width="8.0" height="8.0" fill="#be4b48"/>
<path d="M340.0,375.24 L344.2,382.59000000000003 L335.8,382.59000000000003 Z" fill="#97b850"/>
<path d="M350.425,375.24 L354.625,382.59000000000003 L346.225,382.59000000000003 Z" fill="#97b850"/>
<path d="M374.75,375.24 L378.95,382.59000000000003 L370.55,382.59000000000003 Z" fill="#97b850"/>
<path d="M399.075,375.24 L403.275,382.59000000000003 L394.875,382.59000000000003 Z" fill="#97b850"/>
<path d="M423.4,374.84000000000003 L427.59999999999997,382.19000000000005 L419.2,382.19000000000005 Z" fill="#97b850"/>
<path d="M433.825,374.64 L438.025,381.99 L429.625,381.99 Z" fill="#97b850"/>
<path d="M440.775,374.24 L444.97499999999997,381.59000000000003 L436.575,381.59000000000003 Z" fill="#97b850"/>
<path d="M454.675,372.44 L458.875,379.79 L450.475,379.79 Z" fill="#97b850"/>
<path d="M468.57500000000005,373.24 L472.77500000000003,380.59000000000003 L464.37500000000006,380.59000000000003 Z" fill="#97b850"/>
<path d="M489.425,374.84000000000003 L493.625,382.19000000000005 L485.225,382.19000000000005 Z" fill="#97b850"/>
<path d="M494.2,282.5 Q496.2,282.5 496.2,284.5 L496.2,295.8 L498.0,297 L496.2,298.2 L496.2,310.5 Q496.2,312.5 494.2,312.5" stroke="#444" stroke-width="0.7" fill="none"/>
<text x="502.2" y="300.4" font-size="10.6" font-weight="bold" text-anchor="start" fill="#000" stroke="#000" stroke-width="0.22" textLength="11.6" lengthAdjust="spacingAndGlyphs">ns</text>
<path d="M495,313.6 L497.2,313.6 L497.2,378.8 L495,378.8 M497.2,346.6 L499.2,346.6" stroke="#444" stroke-width="0.8" fill="none"/>
<text x="504.80" y="355.90" font-size="17.5" font-weight="normal" text-anchor="middle" fill="#222">*</text>
<text x="511.70" y="355.90" font-size="17.5" font-weight="normal" text-anchor="middle" fill="#222">*</text>
<path d="M471.6,348.4 L474.2,348.4 L474.2,378.6 L471.6,378.6 M474.2,364 L476.2,364" stroke="#444" stroke-width="0.8" fill="none"/>
<text x="482.20" y="373.40" font-size="17.5" font-weight="normal" text-anchor="middle" fill="#222">*</text>
<text x="488.70" y="373.40" font-size="17.5" font-weight="normal" text-anchor="middle" fill="#222">*</text>
<path d="M457.8,360.4 L460.4,360.4 L460.4,378.6 L457.8,378.6 M460.4,369.8 L462.2,369.8" stroke="#444" stroke-width="0.8" fill="none"/>
<text x="467.00" y="379.10" font-size="17.5" font-weight="normal" text-anchor="middle" fill="#222">*</text>
<path d="M440.4,369.4 L442.6,369.4 L442.6,375.6 L440.4,375.6" stroke="#222" stroke-width="0.8" fill="none"/>
<text x="448.90" y="380.80" font-size="13" font-weight="bold" text-anchor="middle" fill="#000">*</text>
<path d="M36.6,460.0 L36.6,548.3 L169.5,548.3" stroke="#111" stroke-width="1" fill="none"/>
<path d="M33.4,460.00 L36.6,460.00" stroke="#111" stroke-width="1"/>
<text x="32.6" y="462.65" font-size="7.4" font-weight="bold" text-anchor="end" fill="#000" stroke="#000" stroke-width="0.22" textLength="13.2" lengthAdjust="spacingAndGlyphs">800</text>
<path d="M33.4,482.07 L36.6,482.07" stroke="#111" stroke-width="1"/>
<text x="32.6" y="484.72" font-size="7.4" font-weight="bold" text-anchor="end" fill="#000" stroke="#000" stroke-width="0.22" textLength="13.2" lengthAdjust="spacingAndGlyphs">600</text>
<path d="M33.4,504.15 L36.6,504.15" stroke="#111" stroke-width="1"/>
<text x="32.6" y="506.8" font-size="7.4" font-weight="bold" text-anchor="end" fill="#000" stroke="#000" stroke-width="0.22" textLength="13.2" lengthAdjust="spacingAndGlyphs">400</text>
<path d="M33.4,526.22 L36.6,526.22" stroke="#111" stroke-width="1"/>
<text x="32.6" y="528.87" font-size="7.4" font-weight="bold" text-anchor="end" fill="#000" stroke="#000" stroke-width="0.22" textLength="13.2" lengthAdjust="spacingAndGlyphs">200</text>
<path d="M33.4,548.30 L36.6,548.30" stroke="#111" stroke-width="1"/>
<text x="32.6" y="550.95" font-size="7.4" font-weight="bold" text-anchor="end" fill="#000" stroke="#000" stroke-width="0.22" textLength="4.4" lengthAdjust="spacingAndGlyphs">0</text>
<text transform="translate(14.0,503.0) rotate(-90)" stroke="#000" stroke-width="0.22" font-size="10.3" font-weight="bold" text-anchor="middle" textLength="62.2" lengthAdjust="spacingAndGlyphs" xml:space="preserve">CD3+ Cells/uL</text>
<circle cx="47.5" cy="546.8" r="1.9" fill="#111"/>
<circle cx="53" cy="547.8" r="2.0" fill="#111"/>
<circle cx="58.75" cy="547.8" r="2.0" fill="#111"/>
<circle cx="63.75" cy="547.8" r="2.0" fill="#111"/>
<circle cx="68.75" cy="547.8" r="2.0" fill="#111"/>
<path d="M44.9,547.9 L71.95,547.9" stroke="#111" stroke-width="1"/>
<rect x="90.5" y="544.0999999999999" width="4.0" height="4.0" fill="#111"/>
<circle cx="97.5" cy="547.8" r="2.0" fill="#111"/>
<circle cx="103" cy="547.8" r="2.0" fill="#111"/>
<circle cx="108" cy="547.8" r="2.0" fill="#111"/>
<circle cx="113.75" cy="547.8" r="2.0" fill="#111"/>
<path d="M89.9,547.9 L116.95,547.9" stroke="#111" stroke-width="1"/>
<path d="M149.2,478.9 L151.7,483.525 L146.7,483.525 Z" fill="#111"/>
<path d="M143.8,483.9 L146.3,488.525 L141.3,488.525 Z" fill="#111"/>
<path d="M146.3,509.125 L148.175,512.59375 L144.425,512.59375 Z" fill="#111"/>
<path d="M148.8,535.5 L151.3,540.125 L146.3,540.125 Z" fill="#111"/>
<path d="M143.8,538.9 L146.3,543.525 L141.3,543.525 Z" fill="#111"/>
<path d="M132.0,511.8 L160.8,511.8 M146.3,498.8 L146.3,523.8 M139.3,498.8 L153.3,498.8 M139.3,523.8 L153.3,523.8" stroke="#111" stroke-width="1.25" fill="none"/>
<path d="M58.75,548.3 L58.75,550.6999999999999" stroke="#111" stroke-width="1"/>
<path d="M103.3,548.3 L103.3,550.6999999999999" stroke="#111" stroke-width="1"/>
<path d="M146.3,548.3 L146.3,550.6999999999999" stroke="#111" stroke-width="1"/>
<path d="M101.3,473.90000000000003 Q101.3,471.3 103.3,471.3 L123.15,471.3 L124.15,469.5 L125.15,471.3 L145.0,471.3 Q147.0,471.3 147.0,473.90000000000003" stroke="#111" stroke-width="0.8" fill="none"/>
<text x="123.55000000000001" y="473.90000000000003" font-size="16" font-weight="normal" text-anchor="middle" fill="#111">*</text>
<text transform="translate(61.0,559.4) rotate(-45)" stroke="#000" stroke-width="0.22" font-size="9.9" font-weight="bold" text-anchor="end" textLength="17.8" lengthAdjust="spacingAndGlyphs">GFP</text>
<text transform="translate(107.8,559.2) rotate(-45)" stroke="#000" stroke-width="0.22" font-size="9.9" font-weight="bold" text-anchor="end" textLength="43.6" lengthAdjust="spacingAndGlyphs">CD19-28Z</text>
<text transform="translate(149.2,559.2) rotate(-45)" stroke="#000" stroke-width="0.22" font-size="9.9" font-weight="bold" text-anchor="end" textLength="44.6" lengthAdjust="spacingAndGlyphs">m909-28Z</text>
<path d="M210.1,461.0 L210.1,549.4 L342.8,549.4" stroke="#111" stroke-width="1" fill="none"/>
<path d="M206.9,461.00 L210.1,461.00" stroke="#111" stroke-width="1"/>
<text x="206.2" y="463.65" font-size="7.4" font-weight="bold" text-anchor="end" fill="#000" stroke="#000" stroke-width="0.22" textLength="13.2" lengthAdjust="spacingAndGlyphs">300</text>
<path d="M206.9,490.47 L210.1,490.47" stroke="#111" stroke-width="1"/>
<text x="206.2" y="493.12" font-size="7.4" font-weight="bold" text-anchor="end" fill="#000" stroke="#000" stroke-width="0.22" textLength="13.2" lengthAdjust="spacingAndGlyphs">200</text>
<path d="M206.9,519.93 L210.1,519.93" stroke="#111" stroke-width="1"/>
<text x="206.2" y="522.58" font-size="7.4" font-weight="bold" text-anchor="end" fill="#000" stroke="#000" stroke-width="0.22" textLength="13.2" lengthAdjust="spacingAndGlyphs">100</text>
<path d="M206.9,549.40 L210.1,549.40" stroke="#111" stroke-width="1"/>
<text x="206.2" y="552.05" font-size="7.4" font-weight="bold" text-anchor="end" fill="#000" stroke="#000" stroke-width="0.22" textLength="4.4" lengthAdjust="spacingAndGlyphs">0</text>
<text transform="translate(187.4,504.1) rotate(-90)" stroke="#000" stroke-width="0.22" font-size="10.3" font-weight="bold" text-anchor="middle" textLength="63.3" lengthAdjust="spacingAndGlyphs" xml:space="preserve">CD8+  Cells/uL</text>
<circle cx="221.7" cy="547.9" r="1.9" fill="#111"/>
<circle cx="226.7" cy="548.9" r="2.0" fill="#111"/>
<circle cx="231.6" cy="548.9" r="2.0" fill="#111"/>
<circle cx="236.9" cy="548.9" r="2.0" fill="#111"/>
<circle cx="241.8" cy="548.9" r="2.0" fill="#111"/>
<path d="M219.1,549.0 L245.0,549.0" stroke="#111" stroke-width="1"/>
<rect x="263.0" y="545.1999999999999" width="4.0" height="4.0" fill="#111"/>
<circle cx="270.3" cy="548.9" r="2.0" fill="#111"/>
<circle cx="275.2" cy="548.9" r="2.0" fill="#111"/>
<circle cx="280.5" cy="548.9" r="2.0" fill="#111"/>
<circle cx="285.7" cy="548.9" r="2.0" fill="#111"/>
<path d="M262.4,549.0 L288.9,549.0" stroke="#111" stroke-width="1"/>
<path d="M319.6,463.1 L322.1,467.725 L317.1,467.725 Z" fill="#111"/>
<path d="M319.6,505.525 L321.475,508.99375 L317.725,508.99375 Z" fill="#111"/>
<path d="M319.6,513.525 L321.475,516.99375 L317.725,516.99375 Z" fill="#111"/>
<path d="M322.5,535.3 L325.0,539.925 L320.0,539.925 Z" fill="#111"/>
<path d="M317.0,539.1 L319.5,543.725 L314.5,543.725 Z" fill="#111"/>
<path d="M305.0,513.3 L334.0,513.3 M319.6,499.7 L319.6,526.7 M312.3,499.7 L326.9,499.7 M312.3,526.7 L326.9,526.7" stroke="#111" stroke-width="1.25" fill="none"/>
<path d="M231.6,549.4 L231.6,551.8" stroke="#111" stroke-width="1"/>
<path d="M275.5,549.4 L275.5,551.8" stroke="#111" stroke-width="1"/>
<path d="M319.6,549.4 L319.6,551.8" stroke="#111" stroke-width="1"/>
<path d="M279.8,460.40000000000003 Q279.8,457.8 281.8,457.8 L297.95000000000005,457.8 L298.95000000000005,456.0 L299.95000000000005,457.8 L316.1,457.8 Q318.1,457.8 318.1,460.40000000000003" stroke="#111" stroke-width="0.8" fill="none"/>
<text x="298.35" y="460.40000000000003" font-size="16" font-weight="normal" text-anchor="middle" fill="#111">*</text>
<text transform="translate(234.0,559.6) rotate(-45)" stroke="#000" stroke-width="0.22" font-size="9.9" font-weight="bold" text-anchor="end" textLength="17.8" lengthAdjust="spacingAndGlyphs">GFP</text>
<text transform="translate(283.6,559.4) rotate(-45)" stroke="#000" stroke-width="0.22" font-size="9.9" font-weight="bold" text-anchor="end" textLength="43.6" lengthAdjust="spacingAndGlyphs">CD19-28Z</text>
<text transform="translate(322.8,559.8) rotate(-45)" stroke="#000" stroke-width="0.22" font-size="9.9" font-weight="bold" text-anchor="end" textLength="44.6" lengthAdjust="spacingAndGlyphs">m909-28Z</text>
<path d="M383.0,461.0 L383.0,548.6 L514.5,548.6" stroke="#111" stroke-width="1" fill="none"/>
<path d="M379.8,461.00 L383.0,461.00" stroke="#111" stroke-width="1"/>
<text x="379.4" y="463.65" font-size="7.4" font-weight="bold" text-anchor="end" fill="#000" stroke="#000" stroke-width="0.22" textLength="13.2" lengthAdjust="spacingAndGlyphs">500</text>
<path d="M379.8,478.52 L383.0,478.52" stroke="#111" stroke-width="1"/>
<text x="379.4" y="481.17" font-size="7.4" font-weight="bold" text-anchor="end" fill="#000" stroke="#000" stroke-width="0.22" textLength="13.2" lengthAdjust="spacingAndGlyphs">400</text>
<path d="M379.8,496.04 L383.0,496.04" stroke="#111" stroke-width="1"/>
<text x="379.4" y="498.69" font-size="7.4" font-weight="bold" text-anchor="end" fill="#000" stroke="#000" stroke-width="0.22" textLength="13.2" lengthAdjust="spacingAndGlyphs">300</text>
<path d="M379.8,513.56 L383.0,513.56" stroke="#111" stroke-width="1"/>
<text x="379.4" y="516.21" font-size="7.4" font-weight="bold" text-anchor="end" fill="#000" stroke="#000" stroke-width="0.22" textLength="13.2" lengthAdjust="spacingAndGlyphs">200</text>
<path d="M379.8,531.08 L383.0,531.08" stroke="#111" stroke-width="1"/>
<text x="379.4" y="533.73" font-size="7.4" font-weight="bold" text-anchor="end" fill="#000" stroke="#000" stroke-width="0.22" textLength="13.2" lengthAdjust="spacingAndGlyphs">100</text>
<path d="M379.8,548.60 L383.0,548.60" stroke="#111" stroke-width="1"/>
<text x="379.4" y="551.25" font-size="7.4" font-weight="bold" text-anchor="end" fill="#000" stroke="#000" stroke-width="0.22" textLength="4.4" lengthAdjust="spacingAndGlyphs">0</text>
<text transform="translate(360.3,503.4) rotate(-90)" stroke="#000" stroke-width="0.22" font-size="10.3" font-weight="bold" text-anchor="middle" textLength="61.9" lengthAdjust="spacingAndGlyphs" xml:space="preserve">CD4+ Cells/uL</text>
<circle cx="394.7" cy="547.1" r="1.9" fill="#111"/>
<circle cx="400" cy="548.1" r="2.0" fill="#111"/>
<circle cx="404.9" cy="548.1" r="2.0" fill="#111"/>
<circle cx="410.1" cy="548.1" r="2.0" fill="#111"/>
<circle cx="415.3" cy="548.1" r="2.0" fill="#111"/>
<path d="M392.09999999999997,548.2 L418.5,548.2" stroke="#111" stroke-width="1"/>
<rect x="436.6" y="544.4" width="4.0" height="4.0" fill="#111"/>
<circle cx="443.5" cy="548.1" r="2.0" fill="#111"/>
<circle cx="448.8" cy="548.1" r="2.0" fill="#111"/>
<circle cx="454" cy="548.1" r="2.0" fill="#111"/>
<circle cx="459.2" cy="548.1" r="2.0" fill="#111"/>
<path d="M436.0,548.2 L462.4,548.2" stroke="#111" stroke-width="1"/>
<path d="M492.7,472.1 L495.2,476.725 L490.2,476.725 Z" fill="#111"/>
<path d="M492.7,489.3 L495.2,493.925 L490.2,493.925 Z" fill="#111"/>
<path d="M492.7,508.325 L494.575,511.79375 L490.825,511.79375 Z" fill="#111"/>
<path d="M495.6,536.1 L498.1,540.725 L493.1,540.725 Z" fill="#111"/>
<path d="M490.0,539.3 L492.5,543.925 L487.5,543.925 Z" fill="#111"/>
<path d="M478.4,511.3 L507.0,511.3 M492.7,498.0 L492.7,524.0 M485.7,498.0 L500.0,498.0 M485.7,524.0 L500.0,524.0" stroke="#111" stroke-width="1.25" fill="none"/>
<path d="M404.9,548.6 L404.9,551.0" stroke="#111" stroke-width="1"/>
<path d="M449.1,548.6 L449.1,551.0" stroke="#111" stroke-width="1"/>
<path d="M492.7,548.6 L492.7,551.0" stroke="#111" stroke-width="1"/>
<path d="M452.0,467.6 Q452.0,465.0 454.0,465.0 L471.35,465.0 L472.35,463.2 L473.35,465.0 L490.7,465.0 Q492.7,465.0 492.7,467.6" stroke="#111" stroke-width="0.8" fill="none"/>
<text x="471.75" y="467.6" font-size="16" font-weight="normal" text-anchor="middle" fill="#111">*</text>
<text transform="translate(407.0,559.6) rotate(-45)" stroke="#000" stroke-width="0.22" font-size="9.9" font-weight="bold" text-anchor="end" textLength="17.8" lengthAdjust="spacingAndGlyphs">GFP</text>
<text transform="translate(456.0,559.4) rotate(-45)" stroke="#000" stroke-width="0.22" font-size="9.9" font-weight="bold" text-anchor="end" textLength="43.6" lengthAdjust="spacingAndGlyphs">CD19-28Z</text>
<text transform="translate(496.0,559.6) rotate(-45)" stroke="#000" stroke-width="0.22" font-size="9.9" font-weight="bold" text-anchor="end" textLength="44.6" lengthAdjust="spacingAndGlyphs">m909-28Z</text>
</g>
</svg>
</body></html>
